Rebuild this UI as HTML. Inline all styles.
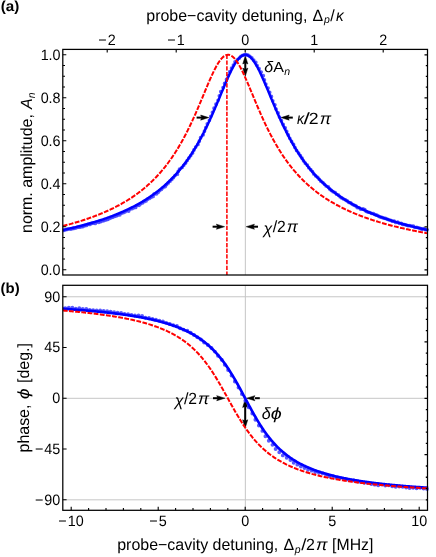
<!DOCTYPE html><html><head><meta charset="utf-8"><style>html,body{margin:0;padding:0;background:#fff}svg{display:block}text{font-family:"Liberation Sans",sans-serif;fill:#000;text-rendering:geometricPrecision}.i{font-style:italic}.b{font-weight:bold}</style></head><body>
<svg style="will-change:transform" width="436" height="557" viewBox="0 0 436 557">
<rect width="100%" height="100%" fill="#fff"/>
<defs><clipPath id="c1"><rect x="62.8" y="49.4" width="365.9" height="225.6"/></clipPath><clipPath id="c2"><rect x="62.8" y="285.3" width="365.9" height="225.0"/></clipPath>
</defs>
<line x1="245.35" y1="49.4" x2="245.35" y2="275.0" stroke="#c6c6c6" stroke-width="1"/>
<line x1="196.6" y1="117.6" x2="202.0" y2="117.6" stroke="#000" stroke-width="2.0"/>
<path d="M0,0 L-8.2,2.55 L-6.9,0 L-8.2,-2.55 Z" stroke="#000" stroke-width="0.5" transform="translate(208.8,117.6) rotate(0)"/>
<line x1="292.8" y1="117.6" x2="288.0" y2="117.6" stroke="#000" stroke-width="2.0"/>
<path d="M0,0 L-8.2,2.55 L-6.9,0 L-8.2,-2.55 Z" stroke="#000" stroke-width="0.5" transform="translate(281.0,117.6) rotate(180)"/>
<line x1="245.3" y1="62.0" x2="245.3" y2="70.0" stroke="#000" stroke-width="2.0"/>
<path d="M0,0 L-8.2,2.55 L-6.9,0 L-8.2,-2.55 Z" stroke="#000" stroke-width="0.5" transform="translate(245.3,55.8) rotate(-90)"/>
<path d="M0,0 L-8.2,2.55 L-6.9,0 L-8.2,-2.55 Z" stroke="#000" stroke-width="0.5" transform="translate(245.3,76.3) rotate(90)"/>
<line x1="212.6" y1="226.7" x2="218.0" y2="226.7" stroke="#000" stroke-width="2.0"/>
<path d="M0,0 L-8.2,2.55 L-6.9,0 L-8.2,-2.55 Z" stroke="#000" stroke-width="0.5" transform="translate(224.6,226.7) rotate(0)"/>
<line x1="258.0" y1="226.7" x2="253.0" y2="226.7" stroke="#000" stroke-width="2.0"/>
<path d="M0,0 L-8.2,2.55 L-6.9,0 L-8.2,-2.55 Z" stroke="#000" stroke-width="0.5" transform="translate(246.2,226.7) rotate(180)"/>
<g clip-path="url(#c1)">
<path d="M37.45,235.02m-1.85,0a1.85,1.85 0 1,0 3.70,0a1.85,1.85 0 1,0 -3.70,0M40.89,234.18m-1.85,0a1.85,1.85 0 1,0 3.70,0a1.85,1.85 0 1,0 -3.70,0M44.41,233.83m-1.85,0a1.85,1.85 0 1,0 3.70,0a1.85,1.85 0 1,0 -3.70,0M48.02,233.89m-1.85,0a1.85,1.85 0 1,0 3.70,0a1.85,1.85 0 1,0 -3.70,0M51.41,232.73m-1.85,0a1.85,1.85 0 1,0 3.70,0a1.85,1.85 0 1,0 -3.70,0M54.97,232.47m-1.85,0a1.85,1.85 0 1,0 3.70,0a1.85,1.85 0 1,0 -3.70,0M58.43,231.68m-1.85,0a1.85,1.85 0 1,0 3.70,0a1.85,1.85 0 1,0 -3.70,0M61.87,230.75m-1.85,0a1.85,1.85 0 1,0 3.70,0a1.85,1.85 0 1,0 -3.70,0M65.31,229.79m-1.85,0a1.85,1.85 0 1,0 3.70,0a1.85,1.85 0 1,0 -3.70,0M68.79,229.00m-1.85,0a1.85,1.85 0 1,0 3.70,0a1.85,1.85 0 1,0 -3.70,0M72.38,228.70m-1.85,0a1.85,1.85 0 1,0 3.70,0a1.85,1.85 0 1,0 -3.70,0M75.90,228.01m-1.85,0a1.85,1.85 0 1,0 3.70,0a1.85,1.85 0 1,0 -3.70,0M79.40,227.17m-1.85,0a1.85,1.85 0 1,0 3.70,0a1.85,1.85 0 1,0 -3.70,0M82.97,226.58m-1.85,0a1.85,1.85 0 1,0 3.70,0a1.85,1.85 0 1,0 -3.70,0M86.38,225.37m-1.85,0a1.85,1.85 0 1,0 3.70,0a1.85,1.85 0 1,0 -3.70,0M89.88,224.42m-1.85,0a1.85,1.85 0 1,0 3.70,0a1.85,1.85 0 1,0 -3.70,0M93.31,223.20m-1.85,0a1.85,1.85 0 1,0 3.70,0a1.85,1.85 0 1,0 -3.70,0M96.74,221.96m-1.85,0a1.85,1.85 0 1,0 3.70,0a1.85,1.85 0 1,0 -3.70,0M100.48,221.62m-1.85,0a1.85,1.85 0 1,0 3.70,0a1.85,1.85 0 1,0 -3.70,0M104.00,220.53m-1.85,0a1.85,1.85 0 1,0 3.70,0a1.85,1.85 0 1,0 -3.70,0M107.56,219.51m-1.85,0a1.85,1.85 0 1,0 3.70,0a1.85,1.85 0 1,0 -3.70,0M110.90,217.80m-1.85,0a1.85,1.85 0 1,0 3.70,0a1.85,1.85 0 1,0 -3.70,0M114.36,216.37m-1.85,0a1.85,1.85 0 1,0 3.70,0a1.85,1.85 0 1,0 -3.70,0M117.88,215.03m-1.85,0a1.85,1.85 0 1,0 3.70,0a1.85,1.85 0 1,0 -3.70,0M121.24,213.26m-1.85,0a1.85,1.85 0 1,0 3.70,0a1.85,1.85 0 1,0 -3.70,0M124.84,211.95m-1.85,0a1.85,1.85 0 1,0 3.70,0a1.85,1.85 0 1,0 -3.70,0M128.70,211.08m-1.85,0a1.85,1.85 0 1,0 3.70,0a1.85,1.85 0 1,0 -3.70,0M131.90,208.75m-1.85,0a1.85,1.85 0 1,0 3.70,0a1.85,1.85 0 1,0 -3.70,0M135.66,207.43m-1.85,0a1.85,1.85 0 1,0 3.70,0a1.85,1.85 0 1,0 -3.70,0M139.06,205.32m-1.85,0a1.85,1.85 0 1,0 3.70,0a1.85,1.85 0 1,0 -3.70,0M142.36,202.94m-1.85,0a1.85,1.85 0 1,0 3.70,0a1.85,1.85 0 1,0 -3.70,0M145.96,200.96m-1.85,0a1.85,1.85 0 1,0 3.70,0a1.85,1.85 0 1,0 -3.70,0M149.31,198.46m-1.85,0a1.85,1.85 0 1,0 3.70,0a1.85,1.85 0 1,0 -3.70,0M153.11,196.48m-1.85,0a1.85,1.85 0 1,0 3.70,0a1.85,1.85 0 1,0 -3.70,0M156.53,193.79m-1.85,0a1.85,1.85 0 1,0 3.70,0a1.85,1.85 0 1,0 -3.70,0M159.62,190.54m-1.85,0a1.85,1.85 0 1,0 3.70,0a1.85,1.85 0 1,0 -3.70,0M163.07,187.60m-1.85,0a1.85,1.85 0 1,0 3.70,0a1.85,1.85 0 1,0 -3.70,0M166.65,184.61m-1.85,0a1.85,1.85 0 1,0 3.70,0a1.85,1.85 0 1,0 -3.70,0M170.01,181.17m-1.85,0a1.85,1.85 0 1,0 3.70,0a1.85,1.85 0 1,0 -3.70,0M173.46,177.60m-1.85,0a1.85,1.85 0 1,0 3.70,0a1.85,1.85 0 1,0 -3.70,0M177.40,174.21m-1.85,0a1.85,1.85 0 1,0 3.70,0a1.85,1.85 0 1,0 -3.70,0M179.54,169.00m-1.85,0a1.85,1.85 0 1,0 3.70,0a1.85,1.85 0 1,0 -3.70,0M183.76,165.26m-1.85,0a1.85,1.85 0 1,0 3.70,0a1.85,1.85 0 1,0 -3.70,0M187.17,160.52m-1.85,0a1.85,1.85 0 1,0 3.70,0a1.85,1.85 0 1,0 -3.70,0M190.72,155.53m-1.85,0a1.85,1.85 0 1,0 3.70,0a1.85,1.85 0 1,0 -3.70,0M193.93,149.94m-1.85,0a1.85,1.85 0 1,0 3.70,0a1.85,1.85 0 1,0 -3.70,0M197.96,144.43m-1.85,0a1.85,1.85 0 1,0 3.70,0a1.85,1.85 0 1,0 -3.70,0M200.59,137.71m-1.85,0a1.85,1.85 0 1,0 3.70,0a1.85,1.85 0 1,0 -3.70,0M204.45,131.22m-1.85,0a1.85,1.85 0 1,0 3.70,0a1.85,1.85 0 1,0 -3.70,0M207.30,123.79m-1.85,0a1.85,1.85 0 1,0 3.70,0a1.85,1.85 0 1,0 -3.70,0M210.77,116.24m-1.85,0a1.85,1.85 0 1,0 3.70,0a1.85,1.85 0 1,0 -3.70,0M214.02,108.21m-1.85,0a1.85,1.85 0 1,0 3.70,0a1.85,1.85 0 1,0 -3.70,0M218.06,100.23m-1.85,0a1.85,1.85 0 1,0 3.70,0a1.85,1.85 0 1,0 -3.70,0M220.74,91.53m-1.85,0a1.85,1.85 0 1,0 3.70,0a1.85,1.85 0 1,0 -3.70,0M224.57,83.38m-1.85,0a1.85,1.85 0 1,0 3.70,0a1.85,1.85 0 1,0 -3.70,0M228.35,75.56m-1.85,0a1.85,1.85 0 1,0 3.70,0a1.85,1.85 0 1,0 -3.70,0M231.55,68.18m-1.85,0a1.85,1.85 0 1,0 3.70,0a1.85,1.85 0 1,0 -3.70,0M234.99,61.98m-1.85,0a1.85,1.85 0 1,0 3.70,0a1.85,1.85 0 1,0 -3.70,0M239.33,58.05m-1.85,0a1.85,1.85 0 1,0 3.70,0a1.85,1.85 0 1,0 -3.70,0M242.67,55.25m-1.85,0a1.85,1.85 0 1,0 3.70,0a1.85,1.85 0 1,0 -3.70,0M246.24,54.66m-1.85,0a1.85,1.85 0 1,0 3.70,0a1.85,1.85 0 1,0 -3.70,0M249.86,56.37m-1.85,0a1.85,1.85 0 1,0 3.70,0a1.85,1.85 0 1,0 -3.70,0M253.64,59.99m-1.85,0a1.85,1.85 0 1,0 3.70,0a1.85,1.85 0 1,0 -3.70,0M257.18,65.50m-1.85,0a1.85,1.85 0 1,0 3.70,0a1.85,1.85 0 1,0 -3.70,0M261.22,72.06m-1.85,0a1.85,1.85 0 1,0 3.70,0a1.85,1.85 0 1,0 -3.70,0M264.42,79.90m-1.85,0a1.85,1.85 0 1,0 3.70,0a1.85,1.85 0 1,0 -3.70,0M268.07,88.03m-1.85,0a1.85,1.85 0 1,0 3.70,0a1.85,1.85 0 1,0 -3.70,0M271.43,96.44m-1.85,0a1.85,1.85 0 1,0 3.70,0a1.85,1.85 0 1,0 -3.70,0M274.92,104.74m-1.85,0a1.85,1.85 0 1,0 3.70,0a1.85,1.85 0 1,0 -3.70,0M278.14,112.91m-1.85,0a1.85,1.85 0 1,0 3.70,0a1.85,1.85 0 1,0 -3.70,0M281.44,120.71m-1.85,0a1.85,1.85 0 1,0 3.70,0a1.85,1.85 0 1,0 -3.70,0M285.25,127.85m-1.85,0a1.85,1.85 0 1,0 3.70,0a1.85,1.85 0 1,0 -3.70,0M288.33,134.92m-1.85,0a1.85,1.85 0 1,0 3.70,0a1.85,1.85 0 1,0 -3.70,0M291.62,141.45m-1.85,0a1.85,1.85 0 1,0 3.70,0a1.85,1.85 0 1,0 -3.70,0M295.00,147.50m-1.85,0a1.85,1.85 0 1,0 3.70,0a1.85,1.85 0 1,0 -3.70,0M298.58,153.02m-1.85,0a1.85,1.85 0 1,0 3.70,0a1.85,1.85 0 1,0 -3.70,0M302.09,158.19m-1.85,0a1.85,1.85 0 1,0 3.70,0a1.85,1.85 0 1,0 -3.70,0M305.31,163.19m-1.85,0a1.85,1.85 0 1,0 3.70,0a1.85,1.85 0 1,0 -3.70,0M308.81,167.67m-1.85,0a1.85,1.85 0 1,0 3.70,0a1.85,1.85 0 1,0 -3.70,0M312.53,171.63m-1.85,0a1.85,1.85 0 1,0 3.70,0a1.85,1.85 0 1,0 -3.70,0M315.65,175.84m-1.85,0a1.85,1.85 0 1,0 3.70,0a1.85,1.85 0 1,0 -3.70,0M319.28,179.32m-1.85,0a1.85,1.85 0 1,0 3.70,0a1.85,1.85 0 1,0 -3.70,0M322.90,182.55m-1.85,0a1.85,1.85 0 1,0 3.70,0a1.85,1.85 0 1,0 -3.70,0M326.12,186.00m-1.85,0a1.85,1.85 0 1,0 3.70,0a1.85,1.85 0 1,0 -3.70,0M329.66,188.89m-1.85,0a1.85,1.85 0 1,0 3.70,0a1.85,1.85 0 1,0 -3.70,0M333.11,191.71m-1.85,0a1.85,1.85 0 1,0 3.70,0a1.85,1.85 0 1,0 -3.70,0M336.63,194.27m-1.85,0a1.85,1.85 0 1,0 3.70,0a1.85,1.85 0 1,0 -3.70,0M340.07,196.78m-1.85,0a1.85,1.85 0 1,0 3.70,0a1.85,1.85 0 1,0 -3.70,0M343.61,198.99m-1.85,0a1.85,1.85 0 1,0 3.70,0a1.85,1.85 0 1,0 -3.70,0M347.21,200.95m-1.85,0a1.85,1.85 0 1,0 3.70,0a1.85,1.85 0 1,0 -3.70,0M350.73,202.92m-1.85,0a1.85,1.85 0 1,0 3.70,0a1.85,1.85 0 1,0 -3.70,0M354.01,205.22m-1.85,0a1.85,1.85 0 1,0 3.70,0a1.85,1.85 0 1,0 -3.70,0M357.23,207.56m-1.85,0a1.85,1.85 0 1,0 3.70,0a1.85,1.85 0 1,0 -3.70,0M360.76,209.23m-1.85,0a1.85,1.85 0 1,0 3.70,0a1.85,1.85 0 1,0 -3.70,0M364.80,209.69m-1.85,0a1.85,1.85 0 1,0 3.70,0a1.85,1.85 0 1,0 -3.70,0M367.92,212.03m-1.85,0a1.85,1.85 0 1,0 3.70,0a1.85,1.85 0 1,0 -3.70,0M371.49,213.33m-1.85,0a1.85,1.85 0 1,0 3.70,0a1.85,1.85 0 1,0 -3.70,0M375.03,214.58m-1.85,0a1.85,1.85 0 1,0 3.70,0a1.85,1.85 0 1,0 -3.70,0M378.46,216.04m-1.85,0a1.85,1.85 0 1,0 3.70,0a1.85,1.85 0 1,0 -3.70,0M381.91,217.40m-1.85,0a1.85,1.85 0 1,0 3.70,0a1.85,1.85 0 1,0 -3.70,0M385.47,218.42m-1.85,0a1.85,1.85 0 1,0 3.70,0a1.85,1.85 0 1,0 -3.70,0M388.87,219.82m-1.85,0a1.85,1.85 0 1,0 3.70,0a1.85,1.85 0 1,0 -3.70,0M392.25,221.27m-1.85,0a1.85,1.85 0 1,0 3.70,0a1.85,1.85 0 1,0 -3.70,0M395.68,222.52m-1.85,0a1.85,1.85 0 1,0 3.70,0a1.85,1.85 0 1,0 -3.70,0M399.23,223.31m-1.85,0a1.85,1.85 0 1,0 3.70,0a1.85,1.85 0 1,0 -3.70,0M402.67,224.47m-1.85,0a1.85,1.85 0 1,0 3.70,0a1.85,1.85 0 1,0 -3.70,0M406.25,225.06m-1.85,0a1.85,1.85 0 1,0 3.70,0a1.85,1.85 0 1,0 -3.70,0M409.81,225.67m-1.85,0a1.85,1.85 0 1,0 3.70,0a1.85,1.85 0 1,0 -3.70,0M413.39,226.13m-1.85,0a1.85,1.85 0 1,0 3.70,0a1.85,1.85 0 1,0 -3.70,0M416.77,227.36m-1.85,0a1.85,1.85 0 1,0 3.70,0a1.85,1.85 0 1,0 -3.70,0M420.20,228.36m-1.85,0a1.85,1.85 0 1,0 3.70,0a1.85,1.85 0 1,0 -3.70,0M423.79,228.64m-1.85,0a1.85,1.85 0 1,0 3.70,0a1.85,1.85 0 1,0 -3.70,0M427.18,229.78m-1.85,0a1.85,1.85 0 1,0 3.70,0a1.85,1.85 0 1,0 -3.70,0" fill="#3c3cff" fill-opacity="0.85"/>
<path d="M39.25,235.10m-1.85,0a1.85,1.85 0 1,0 3.70,0a1.85,1.85 0 1,0 -3.70,0M42.73,234.48m-1.85,0a1.85,1.85 0 1,0 3.70,0a1.85,1.85 0 1,0 -3.70,0M46.16,233.54m-1.85,0a1.85,1.85 0 1,0 3.70,0a1.85,1.85 0 1,0 -3.70,0M49.67,233.09m-1.85,0a1.85,1.85 0 1,0 3.70,0a1.85,1.85 0 1,0 -3.70,0M53.20,232.66m-1.85,0a1.85,1.85 0 1,0 3.70,0a1.85,1.85 0 1,0 -3.70,0M56.65,231.81m-1.85,0a1.85,1.85 0 1,0 3.70,0a1.85,1.85 0 1,0 -3.70,0M60.09,230.90m-1.85,0a1.85,1.85 0 1,0 3.70,0a1.85,1.85 0 1,0 -3.70,0M63.62,230.39m-1.85,0a1.85,1.85 0 1,0 3.70,0a1.85,1.85 0 1,0 -3.70,0M67.05,229.39m-1.85,0a1.85,1.85 0 1,0 3.70,0a1.85,1.85 0 1,0 -3.70,0M70.63,229.05m-1.85,0a1.85,1.85 0 1,0 3.70,0a1.85,1.85 0 1,0 -3.70,0M74.12,228.28m-1.85,0a1.85,1.85 0 1,0 3.70,0a1.85,1.85 0 1,0 -3.70,0M77.55,227.20m-1.85,0a1.85,1.85 0 1,0 3.70,0a1.85,1.85 0 1,0 -3.70,0M81.17,226.85m-1.85,0a1.85,1.85 0 1,0 3.70,0a1.85,1.85 0 1,0 -3.70,0M84.60,225.68m-1.85,0a1.85,1.85 0 1,0 3.70,0a1.85,1.85 0 1,0 -3.70,0M88.01,224.45m-1.85,0a1.85,1.85 0 1,0 3.70,0a1.85,1.85 0 1,0 -3.70,0M91.49,223.46m-1.85,0a1.85,1.85 0 1,0 3.70,0a1.85,1.85 0 1,0 -3.70,0M95.28,223.42m-1.85,0a1.85,1.85 0 1,0 3.70,0a1.85,1.85 0 1,0 -3.70,0M98.76,222.30m-1.85,0a1.85,1.85 0 1,0 3.70,0a1.85,1.85 0 1,0 -3.70,0M102.17,220.88m-1.85,0a1.85,1.85 0 1,0 3.70,0a1.85,1.85 0 1,0 -3.70,0M105.76,219.97m-1.85,0a1.85,1.85 0 1,0 3.70,0a1.85,1.85 0 1,0 -3.70,0M109.19,218.53m-1.85,0a1.85,1.85 0 1,0 3.70,0a1.85,1.85 0 1,0 -3.70,0M112.65,217.14m-1.85,0a1.85,1.85 0 1,0 3.70,0a1.85,1.85 0 1,0 -3.70,0M116.21,215.94m-1.85,0a1.85,1.85 0 1,0 3.70,0a1.85,1.85 0 1,0 -3.70,0M119.84,214.82m-1.85,0a1.85,1.85 0 1,0 3.70,0a1.85,1.85 0 1,0 -3.70,0M123.08,212.70m-1.85,0a1.85,1.85 0 1,0 3.70,0a1.85,1.85 0 1,0 -3.70,0M126.44,210.83m-1.85,0a1.85,1.85 0 1,0 3.70,0a1.85,1.85 0 1,0 -3.70,0M129.88,209.06m-1.85,0a1.85,1.85 0 1,0 3.70,0a1.85,1.85 0 1,0 -3.70,0M133.61,207.78m-1.85,0a1.85,1.85 0 1,0 3.70,0a1.85,1.85 0 1,0 -3.70,0M136.88,205.50m-1.85,0a1.85,1.85 0 1,0 3.70,0a1.85,1.85 0 1,0 -3.70,0M140.54,203.83m-1.85,0a1.85,1.85 0 1,0 3.70,0a1.85,1.85 0 1,0 -3.70,0M144.02,201.73m-1.85,0a1.85,1.85 0 1,0 3.70,0a1.85,1.85 0 1,0 -3.70,0M147.41,199.37m-1.85,0a1.85,1.85 0 1,0 3.70,0a1.85,1.85 0 1,0 -3.70,0M151.12,197.36m-1.85,0a1.85,1.85 0 1,0 3.70,0a1.85,1.85 0 1,0 -3.70,0M154.10,194.16m-1.85,0a1.85,1.85 0 1,0 3.70,0a1.85,1.85 0 1,0 -3.70,0M158.15,192.29m-1.85,0a1.85,1.85 0 1,0 3.70,0a1.85,1.85 0 1,0 -3.70,0M161.49,189.28m-1.85,0a1.85,1.85 0 1,0 3.70,0a1.85,1.85 0 1,0 -3.70,0M165.21,186.53m-1.85,0a1.85,1.85 0 1,0 3.70,0a1.85,1.85 0 1,0 -3.70,0M168.29,182.87m-1.85,0a1.85,1.85 0 1,0 3.70,0a1.85,1.85 0 1,0 -3.70,0M171.74,179.41m-1.85,0a1.85,1.85 0 1,0 3.70,0a1.85,1.85 0 1,0 -3.70,0M175.02,175.57m-1.85,0a1.85,1.85 0 1,0 3.70,0a1.85,1.85 0 1,0 -3.70,0M178.22,171.41m-1.85,0a1.85,1.85 0 1,0 3.70,0a1.85,1.85 0 1,0 -3.70,0M182.06,167.51m-1.85,0a1.85,1.85 0 1,0 3.70,0a1.85,1.85 0 1,0 -3.70,0M185.60,163.03m-1.85,0a1.85,1.85 0 1,0 3.70,0a1.85,1.85 0 1,0 -3.70,0M188.89,158.04m-1.85,0a1.85,1.85 0 1,0 3.70,0a1.85,1.85 0 1,0 -3.70,0M192.59,152.95m-1.85,0a1.85,1.85 0 1,0 3.70,0a1.85,1.85 0 1,0 -3.70,0M195.65,147.07m-1.85,0a1.85,1.85 0 1,0 3.70,0a1.85,1.85 0 1,0 -3.70,0M199.29,141.13m-1.85,0a1.85,1.85 0 1,0 3.70,0a1.85,1.85 0 1,0 -3.70,0M203.16,134.86m-1.85,0a1.85,1.85 0 1,0 3.70,0a1.85,1.85 0 1,0 -3.70,0M205.77,127.50m-1.85,0a1.85,1.85 0 1,0 3.70,0a1.85,1.85 0 1,0 -3.70,0M209.39,120.23m-1.85,0a1.85,1.85 0 1,0 3.70,0a1.85,1.85 0 1,0 -3.70,0M212.40,112.27m-1.85,0a1.85,1.85 0 1,0 3.70,0a1.85,1.85 0 1,0 -3.70,0M215.93,104.20m-1.85,0a1.85,1.85 0 1,0 3.70,0a1.85,1.85 0 1,0 -3.70,0M219.33,95.86m-1.85,0a1.85,1.85 0 1,0 3.70,0a1.85,1.85 0 1,0 -3.70,0M223.03,87.59m-1.85,0a1.85,1.85 0 1,0 3.70,0a1.85,1.85 0 1,0 -3.70,0M226.51,79.42m-1.85,0a1.85,1.85 0 1,0 3.70,0a1.85,1.85 0 1,0 -3.70,0M229.75,71.66m-1.85,0a1.85,1.85 0 1,0 3.70,0a1.85,1.85 0 1,0 -3.70,0M233.41,65.00m-1.85,0a1.85,1.85 0 1,0 3.70,0a1.85,1.85 0 1,0 -3.70,0M237.32,59.86m-1.85,0a1.85,1.85 0 1,0 3.70,0a1.85,1.85 0 1,0 -3.70,0M240.92,56.33m-1.85,0a1.85,1.85 0 1,0 3.70,0a1.85,1.85 0 1,0 -3.70,0M244.45,54.78m-1.85,0a1.85,1.85 0 1,0 3.70,0a1.85,1.85 0 1,0 -3.70,0M248.07,55.21m-1.85,0a1.85,1.85 0 1,0 3.70,0a1.85,1.85 0 1,0 -3.70,0M251.84,57.85m-1.85,0a1.85,1.85 0 1,0 3.70,0a1.85,1.85 0 1,0 -3.70,0M255.82,62.30m-1.85,0a1.85,1.85 0 1,0 3.70,0a1.85,1.85 0 1,0 -3.70,0M259.09,68.69m-1.85,0a1.85,1.85 0 1,0 3.70,0a1.85,1.85 0 1,0 -3.70,0M263.30,75.68m-1.85,0a1.85,1.85 0 1,0 3.70,0a1.85,1.85 0 1,0 -3.70,0M265.84,84.09m-1.85,0a1.85,1.85 0 1,0 3.70,0a1.85,1.85 0 1,0 -3.70,0M269.70,92.25m-1.85,0a1.85,1.85 0 1,0 3.70,0a1.85,1.85 0 1,0 -3.70,0M272.79,100.77m-1.85,0a1.85,1.85 0 1,0 3.70,0a1.85,1.85 0 1,0 -3.70,0M276.09,109.05m-1.85,0a1.85,1.85 0 1,0 3.70,0a1.85,1.85 0 1,0 -3.70,0M279.50,116.99m-1.85,0a1.85,1.85 0 1,0 3.70,0a1.85,1.85 0 1,0 -3.70,0M283.22,124.40m-1.85,0a1.85,1.85 0 1,0 3.70,0a1.85,1.85 0 1,0 -3.70,0M286.74,131.47m-1.85,0a1.85,1.85 0 1,0 3.70,0a1.85,1.85 0 1,0 -3.70,0M289.80,138.34m-1.85,0a1.85,1.85 0 1,0 3.70,0a1.85,1.85 0 1,0 -3.70,0M293.58,144.38m-1.85,0a1.85,1.85 0 1,0 3.70,0a1.85,1.85 0 1,0 -3.70,0M296.58,150.45m-1.85,0a1.85,1.85 0 1,0 3.70,0a1.85,1.85 0 1,0 -3.70,0M300.38,155.63m-1.85,0a1.85,1.85 0 1,0 3.70,0a1.85,1.85 0 1,0 -3.70,0M303.52,160.86m-1.85,0a1.85,1.85 0 1,0 3.70,0a1.85,1.85 0 1,0 -3.70,0M307.39,165.22m-1.85,0a1.85,1.85 0 1,0 3.70,0a1.85,1.85 0 1,0 -3.70,0M310.74,169.63m-1.85,0a1.85,1.85 0 1,0 3.70,0a1.85,1.85 0 1,0 -3.70,0M313.82,174.01m-1.85,0a1.85,1.85 0 1,0 3.70,0a1.85,1.85 0 1,0 -3.70,0M317.72,177.37m-1.85,0a1.85,1.85 0 1,0 3.70,0a1.85,1.85 0 1,0 -3.70,0M320.93,181.13m-1.85,0a1.85,1.85 0 1,0 3.70,0a1.85,1.85 0 1,0 -3.70,0M324.54,184.27m-1.85,0a1.85,1.85 0 1,0 3.70,0a1.85,1.85 0 1,0 -3.70,0M328.33,186.95m-1.85,0a1.85,1.85 0 1,0 3.70,0a1.85,1.85 0 1,0 -3.70,0M331.33,190.40m-1.85,0a1.85,1.85 0 1,0 3.70,0a1.85,1.85 0 1,0 -3.70,0M335.18,192.59m-1.85,0a1.85,1.85 0 1,0 3.70,0a1.85,1.85 0 1,0 -3.70,0M338.57,195.22m-1.85,0a1.85,1.85 0 1,0 3.70,0a1.85,1.85 0 1,0 -3.70,0M341.80,197.95m-1.85,0a1.85,1.85 0 1,0 3.70,0a1.85,1.85 0 1,0 -3.70,0M345.50,199.84m-1.85,0a1.85,1.85 0 1,0 3.70,0a1.85,1.85 0 1,0 -3.70,0M348.73,202.37m-1.85,0a1.85,1.85 0 1,0 3.70,0a1.85,1.85 0 1,0 -3.70,0M352.27,204.26m-1.85,0a1.85,1.85 0 1,0 3.70,0a1.85,1.85 0 1,0 -3.70,0M355.86,205.94m-1.85,0a1.85,1.85 0 1,0 3.70,0a1.85,1.85 0 1,0 -3.70,0M359.29,207.82m-1.85,0a1.85,1.85 0 1,0 3.70,0a1.85,1.85 0 1,0 -3.70,0M363.04,208.94m-1.85,0a1.85,1.85 0 1,0 3.70,0a1.85,1.85 0 1,0 -3.70,0M366.14,211.36m-1.85,0a1.85,1.85 0 1,0 3.70,0a1.85,1.85 0 1,0 -3.70,0M369.78,212.52m-1.85,0a1.85,1.85 0 1,0 3.70,0a1.85,1.85 0 1,0 -3.70,0M373.43,213.53m-1.85,0a1.85,1.85 0 1,0 3.70,0a1.85,1.85 0 1,0 -3.70,0M376.81,215.15m-1.85,0a1.85,1.85 0 1,0 3.70,0a1.85,1.85 0 1,0 -3.70,0M380.09,217.00m-1.85,0a1.85,1.85 0 1,0 3.70,0a1.85,1.85 0 1,0 -3.70,0M383.62,218.11m-1.85,0a1.85,1.85 0 1,0 3.70,0a1.85,1.85 0 1,0 -3.70,0M387.18,219.08m-1.85,0a1.85,1.85 0 1,0 3.70,0a1.85,1.85 0 1,0 -3.70,0M390.65,220.27m-1.85,0a1.85,1.85 0 1,0 3.70,0a1.85,1.85 0 1,0 -3.70,0M394.18,221.20m-1.85,0a1.85,1.85 0 1,0 3.70,0a1.85,1.85 0 1,0 -3.70,0M397.66,222.22m-1.85,0a1.85,1.85 0 1,0 3.70,0a1.85,1.85 0 1,0 -3.70,0M401.12,223.28m-1.85,0a1.85,1.85 0 1,0 3.70,0a1.85,1.85 0 1,0 -3.70,0M404.53,224.51m-1.85,0a1.85,1.85 0 1,0 3.70,0a1.85,1.85 0 1,0 -3.70,0M407.96,225.62m-1.85,0a1.85,1.85 0 1,0 3.70,0a1.85,1.85 0 1,0 -3.70,0M411.58,225.99m-1.85,0a1.85,1.85 0 1,0 3.70,0a1.85,1.85 0 1,0 -3.70,0M414.89,227.50m-1.85,0a1.85,1.85 0 1,0 3.70,0a1.85,1.85 0 1,0 -3.70,0M418.50,227.80m-1.85,0a1.85,1.85 0 1,0 3.70,0a1.85,1.85 0 1,0 -3.70,0M421.81,229.35m-1.85,0a1.85,1.85 0 1,0 3.70,0a1.85,1.85 0 1,0 -3.70,0M425.40,229.60m-1.85,0a1.85,1.85 0 1,0 3.70,0a1.85,1.85 0 1,0 -3.70,0" fill="#3c3cff" fill-opacity="0.85"/>
<path d="M62.80,229.99 L63.71,229.80 L64.63,229.60 L65.54,229.41 L66.45,229.21 L67.37,229.01 L68.28,228.80 L69.20,228.60 L70.11,228.39 L71.02,228.18 L71.94,227.97 L72.85,227.76 L73.77,227.54 L74.68,227.33 L75.59,227.11 L76.51,226.88 L77.42,226.66 L78.33,226.43 L79.25,226.20 L80.16,225.97 L81.07,225.74 L81.99,225.50 L82.90,225.26 L83.82,225.02 L84.73,224.78 L85.64,224.53 L86.56,224.28 L87.47,224.03 L88.38,223.78 L89.30,223.52 L90.21,223.26 L91.13,223.00 L92.04,222.73 L92.95,222.46 L93.87,222.19 L94.78,221.91 L95.69,221.64 L96.61,221.36 L97.52,221.07 L98.44,220.78 L99.35,220.49 L100.26,220.20 L101.18,219.90 L102.09,219.60 L103.00,219.29 L103.92,218.99 L104.83,218.67 L105.75,218.36 L106.66,218.04 L107.57,217.71 L108.49,217.39 L109.40,217.06 L110.31,216.72 L111.23,216.38 L112.14,216.04 L113.06,215.69 L113.97,215.33 L114.88,214.98 L115.80,214.62 L116.71,214.25 L117.62,213.88 L118.54,213.50 L119.45,213.12 L120.37,212.74 L121.28,212.35 L122.19,211.95 L123.11,211.55 L124.02,211.14 L124.94,210.73 L125.85,210.31 L126.76,209.89 L127.68,209.46 L128.59,209.02 L129.50,208.58 L130.42,208.14 L131.33,207.68 L132.25,207.22 L133.16,206.75 L134.07,206.28 L134.99,205.80 L135.90,205.31 L136.81,204.82 L137.73,204.32 L138.64,203.81 L139.56,203.29 L140.47,202.77 L141.38,202.24 L142.30,201.70 L143.21,201.15 L144.12,200.59 L145.04,200.03 L145.95,199.45 L146.87,198.87 L147.78,198.28 L148.69,197.68 L149.61,197.07 L150.52,196.45 L151.43,195.82 L152.35,195.17 L153.26,194.52 L154.18,193.86 L155.09,193.19 L156.00,192.51 L156.92,191.81 L157.83,191.10 L158.74,190.38 L159.66,189.65 L160.57,188.91 L161.49,188.15 L162.40,187.38 L163.31,186.60 L164.23,185.81 L165.14,185.00 L166.05,184.17 L166.97,183.33 L167.88,182.48 L168.80,181.61 L169.71,180.72 L170.62,179.82 L171.54,178.90 L172.45,177.97 L173.36,177.02 L174.28,176.05 L175.19,175.06 L176.11,174.06 L177.02,173.03 L177.93,171.99 L178.85,170.92 L179.76,169.84 L180.67,168.74 L181.59,167.61 L182.50,166.46 L183.41,165.29 L184.33,164.10 L185.24,162.89 L186.16,161.65 L187.07,160.39 L187.98,159.10 L188.90,157.79 L189.81,156.45 L190.72,155.09 L191.64,153.70 L192.55,152.28 L193.47,150.84 L194.38,149.37 L195.29,147.87 L196.21,146.34 L197.12,144.78 L198.04,143.19 L198.95,141.57 L199.86,139.93 L200.78,138.25 L201.69,136.54 L202.60,134.80 L203.52,133.03 L204.43,131.23 L205.34,129.40 L206.26,127.54 L207.17,125.65 L208.09,123.73 L209.00,121.78 L209.91,119.80 L210.83,117.79 L211.74,115.75 L212.65,113.69 L213.57,111.61 L214.48,109.50 L215.40,107.38 L216.31,105.23 L217.22,103.07 L218.14,100.89 L219.05,98.70 L219.96,96.50 L220.88,94.31 L221.79,92.11 L222.71,89.91 L223.62,87.72 L224.53,85.55 L225.45,83.40 L226.36,81.27 L227.27,79.17 L228.19,77.12 L229.10,75.10 L230.02,73.14 L230.93,71.24 L231.84,69.40 L232.76,67.64 L233.67,65.96 L234.58,64.38 L235.50,62.89 L236.41,61.50 L237.33,60.23 L238.24,59.08 L239.15,58.05 L240.07,57.16 L240.98,56.40 L241.89,55.79 L242.81,55.32 L243.72,55.00 L244.64,54.83 L245.55,54.81 L246.46,54.95 L247.38,55.23 L248.29,55.66 L249.20,56.25 L250.12,56.97 L251.03,57.83 L251.95,58.83 L252.86,59.95 L253.77,61.19 L254.69,62.55 L255.60,64.02 L256.51,65.58 L257.43,67.24 L258.34,68.98 L259.26,70.80 L260.17,72.69 L261.08,74.64 L262.00,76.64 L262.91,78.69 L263.82,80.78 L264.74,82.90 L265.65,85.05 L266.57,87.21 L267.48,89.40 L268.39,91.59 L269.31,93.79 L270.22,95.99 L271.13,98.19 L272.05,100.38 L272.96,102.56 L273.88,104.72 L274.79,106.87 L275.70,109.01 L276.62,111.12 L277.53,113.21 L278.44,115.27 L279.36,117.32 L280.27,119.33 L281.19,121.31 L282.10,123.27 L283.01,125.20 L283.93,127.10 L284.84,128.97 L285.75,130.81 L286.67,132.61 L287.58,134.39 L288.50,136.14 L289.41,137.85 L290.32,139.54 L291.24,141.19 L292.15,142.82 L293.06,144.41 L293.98,145.97 L294.89,147.51 L295.81,149.02 L296.72,150.50 L297.63,151.95 L298.55,153.37 L299.46,154.76 L300.38,156.13 L301.29,157.48 L302.20,158.80 L303.12,160.09 L304.03,161.36 L304.94,162.60 L305.86,163.82 L306.77,165.02 L307.69,166.19 L308.60,167.34 L309.51,168.47 L310.43,169.58 L311.34,170.67 L312.25,171.74 L313.17,172.79 L314.08,173.82 L315.00,174.83 L315.91,175.82 L316.82,176.79 L317.74,177.75 L318.65,178.69 L319.56,179.61 L320.48,180.51 L321.39,181.40 L322.31,182.28 L323.22,183.13 L324.13,183.98 L325.05,184.80 L325.96,185.62 L326.87,186.42 L327.79,187.20 L328.70,187.98 L329.62,188.73 L330.53,189.48 L331.44,190.21 L332.36,190.94 L333.27,191.65 L334.18,192.34 L335.10,193.03 L336.01,193.71 L336.93,194.37 L337.84,195.02 L338.75,195.67 L339.67,196.30 L340.58,196.92 L341.49,197.54 L342.41,198.14 L343.32,198.73 L344.24,199.32 L345.15,199.89 L346.06,200.46 L346.98,201.02 L347.89,201.57 L348.80,202.11 L349.72,202.65 L350.63,203.17 L351.55,203.69 L352.46,204.20 L353.37,204.70 L354.29,205.20 L355.20,205.69 L356.11,206.17 L357.03,206.64 L357.94,207.11 L358.86,207.57 L359.77,208.03 L360.68,208.48 L361.60,208.92 L362.51,209.36 L363.42,209.79 L364.34,210.21 L365.25,210.63 L366.17,211.05 L367.08,211.45 L367.99,211.86 L368.91,212.25 L369.82,212.65 L370.73,213.03 L371.65,213.41 L372.56,213.79 L373.48,214.16 L374.39,214.53 L375.30,214.89 L376.22,215.25 L377.13,215.61 L378.04,215.95 L378.96,216.30 L379.87,216.64 L380.79,216.98 L381.70,217.31 L382.61,217.64 L383.53,217.96 L384.44,218.28 L385.35,218.60 L386.27,218.91 L387.18,219.22 L388.10,219.53 L389.01,219.83 L389.92,220.13 L390.84,220.42 L391.75,220.72 L392.66,221.00 L393.58,221.29 L394.49,221.57 L395.41,221.85 L396.32,222.13 L397.23,222.40 L398.15,222.67 L399.06,222.93 L399.97,223.20 L400.89,223.46 L401.80,223.72 L402.72,223.97 L403.63,224.22 L404.54,224.47 L405.46,224.72 L406.37,224.97 L407.28,225.21 L408.20,225.45 L409.11,225.68 L410.03,225.92 L410.94,226.15 L411.85,226.38 L412.77,226.61 L413.68,226.83 L414.59,227.05 L415.51,227.27 L416.42,227.49 L417.34,227.71 L418.25,227.92 L419.16,228.13 L420.08,228.34 L420.99,228.55 L421.90,228.76 L422.82,228.96 L423.73,229.16 L424.65,229.36 L425.56,229.56 L426.47,229.75 L427.39,229.95 L428.30,230.14" fill="none" stroke="#0000ff" stroke-width="2.45"/>
<path d="M62.80,226.03 L63.71,225.80 L64.62,225.56 L65.54,225.32 L66.45,225.08 L67.36,224.84 L68.27,224.60 L69.18,224.35 L70.09,224.10 L71.01,223.84 L71.92,223.59 L72.83,223.33 L73.74,223.07 L74.65,222.80 L75.56,222.54 L76.48,222.26 L77.39,221.99 L78.30,221.71 L79.21,221.44 L80.12,221.15 L81.03,220.87 L81.95,220.58 L82.86,220.28 L83.77,219.99 L84.68,219.69 L85.59,219.39 L86.51,219.08 L87.42,218.77 L88.33,218.45 L89.24,218.14 L90.15,217.81 L91.06,217.49 L91.98,217.16 L92.89,216.83 L93.80,216.49 L94.71,216.15 L95.62,215.80 L96.53,215.45 L97.45,215.09 L98.36,214.74 L99.27,214.37 L100.18,214.00 L101.09,213.63 L102.01,213.25 L102.92,212.87 L103.83,212.48 L104.74,212.09 L105.65,211.69 L106.56,211.28 L107.48,210.87 L108.39,210.46 L109.30,210.04 L110.21,209.61 L111.12,209.18 L112.03,208.74 L112.95,208.30 L113.86,207.85 L114.77,207.39 L115.68,206.93 L116.59,206.46 L117.50,205.98 L118.42,205.50 L119.33,205.01 L120.24,204.51 L121.15,204.01 L122.06,203.49 L122.98,202.97 L123.89,202.45 L124.80,201.91 L125.71,201.37 L126.62,200.81 L127.53,200.25 L128.45,199.68 L129.36,199.11 L130.27,198.52 L131.18,197.92 L132.09,197.32 L133.00,196.70 L133.92,196.08 L134.83,195.44 L135.74,194.80 L136.65,194.14 L137.56,193.47 L138.48,192.80 L139.39,192.11 L140.30,191.41 L141.21,190.70 L142.12,189.97 L143.03,189.24 L143.95,188.49 L144.86,187.72 L145.77,186.95 L146.68,186.16 L147.59,185.36 L148.50,184.54 L149.42,183.71 L150.33,182.87 L151.24,182.01 L152.15,181.13 L153.06,180.24 L153.97,179.33 L154.89,178.41 L155.80,177.46 L156.71,176.51 L157.62,175.53 L158.53,174.53 L159.45,173.52 L160.36,172.49 L161.27,171.44 L162.18,170.36 L163.09,169.27 L164.00,168.16 L164.92,167.03 L165.83,165.87 L166.74,164.69 L167.65,163.49 L168.56,162.27 L169.47,161.02 L170.39,159.75 L171.30,158.45 L172.21,157.13 L173.12,155.78 L174.03,154.41 L174.95,153.01 L175.86,151.58 L176.77,150.13 L177.68,148.65 L178.59,147.14 L179.50,145.60 L180.42,144.03 L181.33,142.43 L182.24,140.80 L183.15,139.15 L184.06,137.46 L184.97,135.74 L185.89,133.99 L186.80,132.21 L187.71,130.40 L188.62,128.56 L189.53,126.69 L190.44,124.79 L191.36,122.86 L192.27,120.90 L193.18,118.91 L194.09,116.89 L195.00,114.85 L195.92,112.79 L196.83,110.70 L197.74,108.58 L198.65,106.45 L199.56,104.30 L200.47,102.14 L201.39,99.96 L202.30,97.77 L203.21,95.58 L204.12,93.39 L205.03,91.19 L205.94,89.01 L206.86,86.83 L207.77,84.67 L208.68,82.53 L209.59,80.42 L210.50,78.34 L211.42,76.30 L212.33,74.32 L213.24,72.38 L214.15,70.51 L215.06,68.71 L215.97,66.98 L216.89,65.34 L217.80,63.79 L218.71,62.34 L219.62,61.00 L220.53,59.78 L221.44,58.68 L222.36,57.70 L223.27,56.86 L224.18,56.16 L225.09,55.60 L226.00,55.18 L226.92,54.92 L227.83,54.80 L228.74,54.84 L229.65,55.03 L230.56,55.37 L231.47,55.85 L232.39,56.48 L233.30,57.25 L234.21,58.16 L235.12,59.20 L236.03,60.36 L236.94,61.64 L237.86,63.03 L238.77,64.53 L239.68,66.13 L240.59,67.81 L241.50,69.57 L242.41,71.41 L243.33,73.31 L244.24,75.28 L245.15,77.29 L246.06,79.35 L246.97,81.44 L247.89,83.57 L248.80,85.72 L249.71,87.89 L250.62,90.07 L251.53,92.26 L252.44,94.45 L253.36,96.65 L254.27,98.84 L255.18,101.02 L256.09,103.19 L257.00,105.35 L257.91,107.49 L258.83,109.61 L259.74,111.72 L260.65,113.79 L261.56,115.85 L262.47,117.88 L263.38,119.88 L264.30,121.85 L265.21,123.80 L266.12,125.71 L267.03,127.60 L267.94,129.46 L268.86,131.28 L269.77,133.08 L270.68,134.84 L271.59,136.58 L272.50,138.28 L273.41,139.96 L274.33,141.60 L275.24,143.21 L276.15,144.80 L277.06,146.35 L277.97,147.87 L278.88,149.37 L279.80,150.84 L280.71,152.28 L281.62,153.69 L282.53,155.08 L283.44,156.44 L284.36,157.78 L285.27,159.09 L286.18,160.37 L287.09,161.63 L288.00,162.87 L288.91,164.08 L289.83,165.27 L290.74,166.43 L291.65,167.58 L292.56,168.70 L293.47,169.81 L294.38,170.89 L295.30,171.95 L296.21,172.99 L297.12,174.02 L298.03,175.02 L298.94,176.01 L299.86,176.97 L300.77,177.92 L301.68,178.86 L302.59,179.77 L303.50,180.67 L304.41,181.56 L305.33,182.43 L306.24,183.28 L307.15,184.12 L308.06,184.94 L308.97,185.75 L309.88,186.55 L310.80,187.33 L311.71,188.10 L312.62,188.85 L313.53,189.60 L314.44,190.33 L315.35,191.04 L316.27,191.75 L317.18,192.44 L318.09,193.13 L319.00,193.80 L319.91,194.46 L320.83,195.11 L321.74,195.75 L322.65,196.38 L323.56,197.00 L324.47,197.61 L325.38,198.21 L326.30,198.81 L327.21,199.39 L328.12,199.96 L329.03,200.53 L329.94,201.08 L330.85,201.63 L331.77,202.17 L332.68,202.70 L333.59,203.23 L334.50,203.74 L335.41,204.25 L336.32,204.75 L337.24,205.25 L338.15,205.73 L339.06,206.21 L339.97,206.69 L340.88,207.15 L341.80,207.61 L342.71,208.07 L343.62,208.52 L344.53,208.96 L345.44,209.39 L346.35,209.82 L347.27,210.24 L348.18,210.66 L349.09,211.07 L350.00,211.48 L350.91,211.88 L351.82,212.28 L352.74,212.67 L353.65,213.05 L354.56,213.44 L355.47,213.81 L356.38,214.18 L357.30,214.55 L358.21,214.91 L359.12,215.27 L360.03,215.62 L360.94,215.97 L361.85,216.31 L362.77,216.65 L363.68,216.99 L364.59,217.32 L365.50,217.65 L366.41,217.97 L367.32,218.29 L368.24,218.61 L369.15,218.92 L370.06,219.23 L370.97,219.53 L371.88,219.83 L372.80,220.13 L373.71,220.43 L374.62,220.72 L375.53,221.01 L376.44,221.29 L377.35,221.57 L378.27,221.85 L379.18,222.12 L380.09,222.40 L381.00,222.67 L381.91,222.93 L382.82,223.19 L383.74,223.45 L384.65,223.71 L385.56,223.97 L386.47,224.22 L387.38,224.47 L388.29,224.71 L389.21,224.96 L390.12,225.20 L391.03,225.44 L391.94,225.68 L392.85,225.91 L393.77,226.14 L394.68,226.37 L395.59,226.60 L396.50,226.82 L397.41,227.04 L398.32,227.26 L399.24,227.48 L400.15,227.70 L401.06,227.91 L401.97,228.12 L402.88,228.33 L403.79,228.54 L404.71,228.74 L405.62,228.95 L406.53,229.15 L407.44,229.35 L408.35,229.54 L409.26,229.74 L410.18,229.93 L411.09,230.13 L412.00,230.32 L412.91,230.50 L413.82,230.69 L414.74,230.87 L415.65,231.06 L416.56,231.24 L417.47,231.42 L418.38,231.60 L419.29,231.77 L420.21,231.95 L421.12,232.12 L422.03,232.29 L422.94,232.46 L423.85,232.63 L424.76,232.80 L425.68,232.96 L426.59,233.13 L427.50,233.29" fill="none" stroke="#ff0000" stroke-width="2.0" stroke-dasharray="4.8 1.4"/>
<line x1="226.9" y1="54.8" x2="226.9" y2="275.0" stroke="#ff0000" stroke-width="1.55" stroke-dasharray="4.3 1.4"/>
</g>
<rect x="62.8" y="49.4" width="364.7" height="225.6" stroke="#000" stroke-width="1.25" fill="none"/>
<path d="M62.8,269.80 h3.5 M62.8,259.05 h2.2 M62.8,248.30 h2.2 M62.8,237.55 h2.2 M62.8,226.80 h3.5 M62.8,216.05 h2.2 M62.8,205.30 h2.2 M62.8,194.55 h2.2 M62.8,183.80 h3.5 M62.8,173.05 h2.2 M62.8,162.30 h2.2 M62.8,151.55 h2.2 M62.8,140.80 h3.5 M62.8,130.05 h2.2 M62.8,119.30 h2.2 M62.8,108.55 h2.2 M62.8,97.80 h3.5 M62.8,87.05 h2.2 M62.8,76.30 h2.2 M62.8,65.55 h2.2 M62.8,54.80 h3.5 M107.20,49.4 v3.0 M176.20,49.4 v3.0 M245.20,49.4 v3.0 M314.20,49.4 v3.0 M383.20,49.4 v3.0" stroke="#000" stroke-width="1.1" fill="none"/>
<path d="M427.5,269.80 h-3.0 M427.5,259.05 h-1.7 M427.5,248.30 h-1.7 M427.5,237.55 h-1.7 M427.5,226.80 h-3.0 M427.5,216.05 h-1.7 M427.5,205.30 h-1.7 M427.5,194.55 h-1.7 M427.5,183.80 h-3.0 M427.5,173.05 h-1.7 M427.5,162.30 h-1.7 M427.5,151.55 h-1.7 M427.5,140.80 h-3.0 M427.5,130.05 h-1.7 M427.5,119.30 h-1.7 M427.5,108.55 h-1.7 M427.5,97.80 h-3.0 M427.5,87.05 h-1.7 M427.5,76.30 h-1.7 M427.5,65.55 h-1.7 M427.5,54.80 h-3.0" stroke="#000" stroke-width="1.3" fill="none"/>
<line x1="62.8" y1="296.78" x2="427.5" y2="296.78" stroke="#c6c6c6" stroke-width="1"/>
<line x1="62.8" y1="398.30" x2="427.5" y2="398.30" stroke="#c6c6c6" stroke-width="1"/>
<line x1="62.8" y1="499.82" x2="427.5" y2="499.82" stroke="#c6c6c6" stroke-width="1"/>
<line x1="245.35" y1="285.3" x2="245.35" y2="510.3" stroke="#c6c6c6" stroke-width="1"/>
<line x1="213.0" y1="398.2" x2="218.0" y2="398.2" stroke="#000" stroke-width="2.0"/>
<path d="M0,0 L-8.2,2.55 L-6.9,0 L-8.2,-2.55 Z" stroke="#000" stroke-width="0.5" transform="translate(224.9,398.2) rotate(0)"/>
<line x1="259.8" y1="398.2" x2="255.0" y2="398.2" stroke="#000" stroke-width="2.0"/>
<path d="M0,0 L-8.2,2.55 L-6.9,0 L-8.2,-2.55 Z" stroke="#000" stroke-width="0.5" transform="translate(246.7,398.2) rotate(180)"/>
<line x1="245.2" y1="406.0" x2="245.2" y2="421.0" stroke="#000" stroke-width="2.0"/>
<path d="M0,0 L-8.2,2.55 L-6.9,0 L-8.2,-2.55 Z" stroke="#000" stroke-width="0.5" transform="translate(245.2,399.3) rotate(-90)"/>
<path d="M0,0 L-8.2,2.55 L-6.9,0 L-8.2,-2.55 Z" stroke="#000" stroke-width="0.5" transform="translate(245.2,428.0) rotate(90)"/>
<g clip-path="url(#c2)">
<path d="M-171.39,301.01m-1.95,0a1.95,1.95 0 1,0 3.90,0a1.95,1.95 0 1,0 -3.90,0M-164.42,300.82m-1.95,0a1.95,1.95 0 1,0 3.90,0a1.95,1.95 0 1,0 -3.90,0M-157.47,301.50m-1.95,0a1.95,1.95 0 1,0 3.90,0a1.95,1.95 0 1,0 -3.90,0M-150.50,300.87m-1.95,0a1.95,1.95 0 1,0 3.90,0a1.95,1.95 0 1,0 -3.90,0M-143.54,301.20m-1.95,0a1.95,1.95 0 1,0 3.90,0a1.95,1.95 0 1,0 -3.90,0M-136.57,300.90m-1.95,0a1.95,1.95 0 1,0 3.90,0a1.95,1.95 0 1,0 -3.90,0M-129.62,301.51m-1.95,0a1.95,1.95 0 1,0 3.90,0a1.95,1.95 0 1,0 -3.90,0M-122.67,301.91m-1.95,0a1.95,1.95 0 1,0 3.90,0a1.95,1.95 0 1,0 -3.90,0M-115.70,301.82m-1.95,0a1.95,1.95 0 1,0 3.90,0a1.95,1.95 0 1,0 -3.90,0M-108.74,301.77m-1.95,0a1.95,1.95 0 1,0 3.90,0a1.95,1.95 0 1,0 -3.90,0M-101.78,301.96m-1.95,0a1.95,1.95 0 1,0 3.90,0a1.95,1.95 0 1,0 -3.90,0M-94.82,302.12m-1.95,0a1.95,1.95 0 1,0 3.90,0a1.95,1.95 0 1,0 -3.90,0M-87.85,302.08m-1.95,0a1.95,1.95 0 1,0 3.90,0a1.95,1.95 0 1,0 -3.90,0M-80.90,302.50m-1.95,0a1.95,1.95 0 1,0 3.90,0a1.95,1.95 0 1,0 -3.90,0M-73.94,302.70m-1.95,0a1.95,1.95 0 1,0 3.90,0a1.95,1.95 0 1,0 -3.90,0M-66.98,302.96m-1.95,0a1.95,1.95 0 1,0 3.90,0a1.95,1.95 0 1,0 -3.90,0M-60.01,302.63m-1.95,0a1.95,1.95 0 1,0 3.90,0a1.95,1.95 0 1,0 -3.90,0M-53.06,303.19m-1.95,0a1.95,1.95 0 1,0 3.90,0a1.95,1.95 0 1,0 -3.90,0M-46.09,303.39m-1.95,0a1.95,1.95 0 1,0 3.90,0a1.95,1.95 0 1,0 -3.90,0M-39.12,303.02m-1.95,0a1.95,1.95 0 1,0 3.90,0a1.95,1.95 0 1,0 -3.90,0M-32.17,303.59m-1.95,0a1.95,1.95 0 1,0 3.90,0a1.95,1.95 0 1,0 -3.90,0M-25.21,303.99m-1.95,0a1.95,1.95 0 1,0 3.90,0a1.95,1.95 0 1,0 -3.90,0M-18.23,303.63m-1.95,0a1.95,1.95 0 1,0 3.90,0a1.95,1.95 0 1,0 -3.90,0M-11.27,303.74m-1.95,0a1.95,1.95 0 1,0 3.90,0a1.95,1.95 0 1,0 -3.90,0M-4.32,304.50m-1.95,0a1.95,1.95 0 1,0 3.90,0a1.95,1.95 0 1,0 -3.90,0M2.65,304.64m-1.95,0a1.95,1.95 0 1,0 3.90,0a1.95,1.95 0 1,0 -3.90,0M9.60,305.11m-1.95,0a1.95,1.95 0 1,0 3.90,0a1.95,1.95 0 1,0 -3.90,0M16.57,305.23m-1.95,0a1.95,1.95 0 1,0 3.90,0a1.95,1.95 0 1,0 -3.90,0M23.54,305.37m-1.95,0a1.95,1.95 0 1,0 3.90,0a1.95,1.95 0 1,0 -3.90,0M30.49,305.92m-1.95,0a1.95,1.95 0 1,0 3.90,0a1.95,1.95 0 1,0 -3.90,0M37.45,306.40m-1.95,0a1.95,1.95 0 1,0 3.90,0a1.95,1.95 0 1,0 -3.90,0M44.43,306.37m-1.95,0a1.95,1.95 0 1,0 3.90,0a1.95,1.95 0 1,0 -3.90,0M51.41,306.55m-1.95,0a1.95,1.95 0 1,0 3.90,0a1.95,1.95 0 1,0 -3.90,0M58.34,307.62m-1.95,0a1.95,1.95 0 1,0 3.90,0a1.95,1.95 0 1,0 -3.90,0M65.30,308.11m-1.95,0a1.95,1.95 0 1,0 3.90,0a1.95,1.95 0 1,0 -3.90,0M72.33,307.67m-1.95,0a1.95,1.95 0 1,0 3.90,0a1.95,1.95 0 1,0 -3.90,0M79.29,308.30m-1.95,0a1.95,1.95 0 1,0 3.90,0a1.95,1.95 0 1,0 -3.90,0M86.26,308.90m-1.95,0a1.95,1.95 0 1,0 3.90,0a1.95,1.95 0 1,0 -3.90,0M93.17,310.14m-1.95,0a1.95,1.95 0 1,0 3.90,0a1.95,1.95 0 1,0 -3.90,0M100.16,310.57m-1.95,0a1.95,1.95 0 1,0 3.90,0a1.95,1.95 0 1,0 -3.90,0M107.14,311.21m-1.95,0a1.95,1.95 0 1,0 3.90,0a1.95,1.95 0 1,0 -3.90,0M114.10,312.19m-1.95,0a1.95,1.95 0 1,0 3.90,0a1.95,1.95 0 1,0 -3.90,0M121.10,312.89m-1.95,0a1.95,1.95 0 1,0 3.90,0a1.95,1.95 0 1,0 -3.90,0M128.04,314.11m-1.95,0a1.95,1.95 0 1,0 3.90,0a1.95,1.95 0 1,0 -3.90,0M134.96,315.58m-1.95,0a1.95,1.95 0 1,0 3.90,0a1.95,1.95 0 1,0 -3.90,0M142.08,316.01m-1.95,0a1.95,1.95 0 1,0 3.90,0a1.95,1.95 0 1,0 -3.90,0M148.97,317.93m-1.95,0a1.95,1.95 0 1,0 3.90,0a1.95,1.95 0 1,0 -3.90,0M155.90,319.73m-1.95,0a1.95,1.95 0 1,0 3.90,0a1.95,1.95 0 1,0 -3.90,0M162.91,321.46m-1.95,0a1.95,1.95 0 1,0 3.90,0a1.95,1.95 0 1,0 -3.90,0M169.78,323.93m-1.95,0a1.95,1.95 0 1,0 3.90,0a1.95,1.95 0 1,0 -3.90,0M176.91,325.97m-1.95,0a1.95,1.95 0 1,0 3.90,0a1.95,1.95 0 1,0 -3.90,0M183.56,329.66m-1.95,0a1.95,1.95 0 1,0 3.90,0a1.95,1.95 0 1,0 -3.90,0M190.64,332.82m-1.95,0a1.95,1.95 0 1,0 3.90,0a1.95,1.95 0 1,0 -3.90,0M197.36,337.30m-1.95,0a1.95,1.95 0 1,0 3.90,0a1.95,1.95 0 1,0 -3.90,0M204.13,342.45m-1.95,0a1.95,1.95 0 1,0 3.90,0a1.95,1.95 0 1,0 -3.90,0M211.49,347.98m-1.95,0a1.95,1.95 0 1,0 3.90,0a1.95,1.95 0 1,0 -3.90,0M217.97,355.78m-1.95,0a1.95,1.95 0 1,0 3.90,0a1.95,1.95 0 1,0 -3.90,0M224.76,364.80m-1.95,0a1.95,1.95 0 1,0 3.90,0a1.95,1.95 0 1,0 -3.90,0M231.58,375.48m-1.95,0a1.95,1.95 0 1,0 3.90,0a1.95,1.95 0 1,0 -3.90,0M238.51,387.60m-1.95,0a1.95,1.95 0 1,0 3.90,0a1.95,1.95 0 1,0 -3.90,0M245.33,400.64m-1.95,0a1.95,1.95 0 1,0 3.90,0a1.95,1.95 0 1,0 -3.90,0M252.29,413.50m-1.95,0a1.95,1.95 0 1,0 3.90,0a1.95,1.95 0 1,0 -3.90,0M258.90,425.54m-1.95,0a1.95,1.95 0 1,0 3.90,0a1.95,1.95 0 1,0 -3.90,0M265.43,436.18m-1.95,0a1.95,1.95 0 1,0 3.90,0a1.95,1.95 0 1,0 -3.90,0M272.48,444.84m-1.95,0a1.95,1.95 0 1,0 3.90,0a1.95,1.95 0 1,0 -3.90,0M279.27,452.30m-1.95,0a1.95,1.95 0 1,0 3.90,0a1.95,1.95 0 1,0 -3.90,0M286.71,457.76m-1.95,0a1.95,1.95 0 1,0 3.90,0a1.95,1.95 0 1,0 -3.90,0M293.70,462.73m-1.95,0a1.95,1.95 0 1,0 3.90,0a1.95,1.95 0 1,0 -3.90,0M300.89,466.55m-1.95,0a1.95,1.95 0 1,0 3.90,0a1.95,1.95 0 1,0 -3.90,0M308.02,469.75m-1.95,0a1.95,1.95 0 1,0 3.90,0a1.95,1.95 0 1,0 -3.90,0M315.24,472.09m-1.95,0a1.95,1.95 0 1,0 3.90,0a1.95,1.95 0 1,0 -3.90,0M322.61,473.33m-1.95,0a1.95,1.95 0 1,0 3.90,0a1.95,1.95 0 1,0 -3.90,0M329.35,476.23m-1.95,0a1.95,1.95 0 1,0 3.90,0a1.95,1.95 0 1,0 -3.90,0M336.43,477.69m-1.95,0a1.95,1.95 0 1,0 3.90,0a1.95,1.95 0 1,0 -3.90,0M343.52,478.72m-1.95,0a1.95,1.95 0 1,0 3.90,0a1.95,1.95 0 1,0 -3.90,0M350.46,480.24m-1.95,0a1.95,1.95 0 1,0 3.90,0a1.95,1.95 0 1,0 -3.90,0M357.43,481.46m-1.95,0a1.95,1.95 0 1,0 3.90,0a1.95,1.95 0 1,0 -3.90,0M364.36,482.82m-1.95,0a1.95,1.95 0 1,0 3.90,0a1.95,1.95 0 1,0 -3.90,0M371.29,484.08m-1.95,0a1.95,1.95 0 1,0 3.90,0a1.95,1.95 0 1,0 -3.90,0M378.23,485.29m-1.95,0a1.95,1.95 0 1,0 3.90,0a1.95,1.95 0 1,0 -3.90,0M385.27,485.47m-1.95,0a1.95,1.95 0 1,0 3.90,0a1.95,1.95 0 1,0 -3.90,0M392.23,486.29m-1.95,0a1.95,1.95 0 1,0 3.90,0a1.95,1.95 0 1,0 -3.90,0M399.24,486.52m-1.95,0a1.95,1.95 0 1,0 3.90,0a1.95,1.95 0 1,0 -3.90,0M406.17,487.54m-1.95,0a1.95,1.95 0 1,0 3.90,0a1.95,1.95 0 1,0 -3.90,0M413.16,487.81m-1.95,0a1.95,1.95 0 1,0 3.90,0a1.95,1.95 0 1,0 -3.90,0M420.16,487.81m-1.95,0a1.95,1.95 0 1,0 3.90,0a1.95,1.95 0 1,0 -3.90,0M427.07,489.09m-1.95,0a1.95,1.95 0 1,0 3.90,0a1.95,1.95 0 1,0 -3.90,0" fill="#3c3cff" fill-opacity="0.85"/>
<path d="M-167.90,300.35m-1.95,0a1.95,1.95 0 1,0 3.90,0a1.95,1.95 0 1,0 -3.90,0M-160.95,301.24m-1.95,0a1.95,1.95 0 1,0 3.90,0a1.95,1.95 0 1,0 -3.90,0M-153.99,301.56m-1.95,0a1.95,1.95 0 1,0 3.90,0a1.95,1.95 0 1,0 -3.90,0M-147.02,301.19m-1.95,0a1.95,1.95 0 1,0 3.90,0a1.95,1.95 0 1,0 -3.90,0M-140.06,300.87m-1.95,0a1.95,1.95 0 1,0 3.90,0a1.95,1.95 0 1,0 -3.90,0M-133.10,301.61m-1.95,0a1.95,1.95 0 1,0 3.90,0a1.95,1.95 0 1,0 -3.90,0M-126.14,301.45m-1.95,0a1.95,1.95 0 1,0 3.90,0a1.95,1.95 0 1,0 -3.90,0M-119.17,301.31m-1.95,0a1.95,1.95 0 1,0 3.90,0a1.95,1.95 0 1,0 -3.90,0M-112.22,301.73m-1.95,0a1.95,1.95 0 1,0 3.90,0a1.95,1.95 0 1,0 -3.90,0M-105.26,301.99m-1.95,0a1.95,1.95 0 1,0 3.90,0a1.95,1.95 0 1,0 -3.90,0M-98.30,302.05m-1.95,0a1.95,1.95 0 1,0 3.90,0a1.95,1.95 0 1,0 -3.90,0M-91.35,302.69m-1.95,0a1.95,1.95 0 1,0 3.90,0a1.95,1.95 0 1,0 -3.90,0M-84.38,302.55m-1.95,0a1.95,1.95 0 1,0 3.90,0a1.95,1.95 0 1,0 -3.90,0M-77.41,302.28m-1.95,0a1.95,1.95 0 1,0 3.90,0a1.95,1.95 0 1,0 -3.90,0M-70.45,302.28m-1.95,0a1.95,1.95 0 1,0 3.90,0a1.95,1.95 0 1,0 -3.90,0M-63.49,302.45m-1.95,0a1.95,1.95 0 1,0 3.90,0a1.95,1.95 0 1,0 -3.90,0M-56.53,302.96m-1.95,0a1.95,1.95 0 1,0 3.90,0a1.95,1.95 0 1,0 -3.90,0M-49.58,303.30m-1.95,0a1.95,1.95 0 1,0 3.90,0a1.95,1.95 0 1,0 -3.90,0M-42.61,303.15m-1.95,0a1.95,1.95 0 1,0 3.90,0a1.95,1.95 0 1,0 -3.90,0M-35.65,303.56m-1.95,0a1.95,1.95 0 1,0 3.90,0a1.95,1.95 0 1,0 -3.90,0M-28.68,303.31m-1.95,0a1.95,1.95 0 1,0 3.90,0a1.95,1.95 0 1,0 -3.90,0M-21.72,303.86m-1.95,0a1.95,1.95 0 1,0 3.90,0a1.95,1.95 0 1,0 -3.90,0M-14.76,304.16m-1.95,0a1.95,1.95 0 1,0 3.90,0a1.95,1.95 0 1,0 -3.90,0M-7.79,303.99m-1.95,0a1.95,1.95 0 1,0 3.90,0a1.95,1.95 0 1,0 -3.90,0M-0.82,304.03m-1.95,0a1.95,1.95 0 1,0 3.90,0a1.95,1.95 0 1,0 -3.90,0M6.14,304.35m-1.95,0a1.95,1.95 0 1,0 3.90,0a1.95,1.95 0 1,0 -3.90,0M13.10,304.81m-1.95,0a1.95,1.95 0 1,0 3.90,0a1.95,1.95 0 1,0 -3.90,0M20.07,304.87m-1.95,0a1.95,1.95 0 1,0 3.90,0a1.95,1.95 0 1,0 -3.90,0M27.00,305.91m-1.95,0a1.95,1.95 0 1,0 3.90,0a1.95,1.95 0 1,0 -3.90,0M34.01,305.40m-1.95,0a1.95,1.95 0 1,0 3.90,0a1.95,1.95 0 1,0 -3.90,0M40.93,306.57m-1.95,0a1.95,1.95 0 1,0 3.90,0a1.95,1.95 0 1,0 -3.90,0M47.89,307.10m-1.95,0a1.95,1.95 0 1,0 3.90,0a1.95,1.95 0 1,0 -3.90,0M54.88,307.05m-1.95,0a1.95,1.95 0 1,0 3.90,0a1.95,1.95 0 1,0 -3.90,0M61.81,307.89m-1.95,0a1.95,1.95 0 1,0 3.90,0a1.95,1.95 0 1,0 -3.90,0M68.83,307.64m-1.95,0a1.95,1.95 0 1,0 3.90,0a1.95,1.95 0 1,0 -3.90,0M75.76,308.58m-1.95,0a1.95,1.95 0 1,0 3.90,0a1.95,1.95 0 1,0 -3.90,0M82.74,308.96m-1.95,0a1.95,1.95 0 1,0 3.90,0a1.95,1.95 0 1,0 -3.90,0M89.68,309.90m-1.95,0a1.95,1.95 0 1,0 3.90,0a1.95,1.95 0 1,0 -3.90,0M96.66,310.39m-1.95,0a1.95,1.95 0 1,0 3.90,0a1.95,1.95 0 1,0 -3.90,0M103.65,310.94m-1.95,0a1.95,1.95 0 1,0 3.90,0a1.95,1.95 0 1,0 -3.90,0M110.61,311.81m-1.95,0a1.95,1.95 0 1,0 3.90,0a1.95,1.95 0 1,0 -3.90,0M117.58,312.69m-1.95,0a1.95,1.95 0 1,0 3.90,0a1.95,1.95 0 1,0 -3.90,0M124.49,314.07m-1.95,0a1.95,1.95 0 1,0 3.90,0a1.95,1.95 0 1,0 -3.90,0M131.47,315.00m-1.95,0a1.95,1.95 0 1,0 3.90,0a1.95,1.95 0 1,0 -3.90,0M138.55,315.57m-1.95,0a1.95,1.95 0 1,0 3.90,0a1.95,1.95 0 1,0 -3.90,0M145.39,317.62m-1.95,0a1.95,1.95 0 1,0 3.90,0a1.95,1.95 0 1,0 -3.90,0M152.41,318.92m-1.95,0a1.95,1.95 0 1,0 3.90,0a1.95,1.95 0 1,0 -3.90,0M159.34,320.81m-1.95,0a1.95,1.95 0 1,0 3.90,0a1.95,1.95 0 1,0 -3.90,0M166.28,322.87m-1.95,0a1.95,1.95 0 1,0 3.90,0a1.95,1.95 0 1,0 -3.90,0M173.20,325.30m-1.95,0a1.95,1.95 0 1,0 3.90,0a1.95,1.95 0 1,0 -3.90,0M180.04,328.27m-1.95,0a1.95,1.95 0 1,0 3.90,0a1.95,1.95 0 1,0 -3.90,0M187.29,330.75m-1.95,0a1.95,1.95 0 1,0 3.90,0a1.95,1.95 0 1,0 -3.90,0M193.99,334.99m-1.95,0a1.95,1.95 0 1,0 3.90,0a1.95,1.95 0 1,0 -3.90,0M200.93,339.51m-1.95,0a1.95,1.95 0 1,0 3.90,0a1.95,1.95 0 1,0 -3.90,0M207.83,345.01m-1.95,0a1.95,1.95 0 1,0 3.90,0a1.95,1.95 0 1,0 -3.90,0M214.86,351.59m-1.95,0a1.95,1.95 0 1,0 3.90,0a1.95,1.95 0 1,0 -3.90,0M221.70,359.82m-1.95,0a1.95,1.95 0 1,0 3.90,0a1.95,1.95 0 1,0 -3.90,0M228.10,369.98m-1.95,0a1.95,1.95 0 1,0 3.90,0a1.95,1.95 0 1,0 -3.90,0M234.84,381.50m-1.95,0a1.95,1.95 0 1,0 3.90,0a1.95,1.95 0 1,0 -3.90,0M241.82,394.12m-1.95,0a1.95,1.95 0 1,0 3.90,0a1.95,1.95 0 1,0 -3.90,0M248.68,407.22m-1.95,0a1.95,1.95 0 1,0 3.90,0a1.95,1.95 0 1,0 -3.90,0M255.39,419.81m-1.95,0a1.95,1.95 0 1,0 3.90,0a1.95,1.95 0 1,0 -3.90,0M262.39,430.90m-1.95,0a1.95,1.95 0 1,0 3.90,0a1.95,1.95 0 1,0 -3.90,0M268.81,440.82m-1.95,0a1.95,1.95 0 1,0 3.90,0a1.95,1.95 0 1,0 -3.90,0M275.63,448.97m-1.95,0a1.95,1.95 0 1,0 3.90,0a1.95,1.95 0 1,0 -3.90,0M282.82,455.40m-1.95,0a1.95,1.95 0 1,0 3.90,0a1.95,1.95 0 1,0 -3.90,0M290.44,460.01m-1.95,0a1.95,1.95 0 1,0 3.90,0a1.95,1.95 0 1,0 -3.90,0M297.35,464.66m-1.95,0a1.95,1.95 0 1,0 3.90,0a1.95,1.95 0 1,0 -3.90,0M304.53,468.07m-1.95,0a1.95,1.95 0 1,0 3.90,0a1.95,1.95 0 1,0 -3.90,0M311.78,470.63m-1.95,0a1.95,1.95 0 1,0 3.90,0a1.95,1.95 0 1,0 -3.90,0M318.95,472.74m-1.95,0a1.95,1.95 0 1,0 3.90,0a1.95,1.95 0 1,0 -3.90,0M325.98,474.80m-1.95,0a1.95,1.95 0 1,0 3.90,0a1.95,1.95 0 1,0 -3.90,0M333.11,476.13m-1.95,0a1.95,1.95 0 1,0 3.90,0a1.95,1.95 0 1,0 -3.90,0M340.04,477.93m-1.95,0a1.95,1.95 0 1,0 3.90,0a1.95,1.95 0 1,0 -3.90,0M346.98,479.53m-1.95,0a1.95,1.95 0 1,0 3.90,0a1.95,1.95 0 1,0 -3.90,0M354.00,480.52m-1.95,0a1.95,1.95 0 1,0 3.90,0a1.95,1.95 0 1,0 -3.90,0M360.89,482.14m-1.95,0a1.95,1.95 0 1,0 3.90,0a1.95,1.95 0 1,0 -3.90,0M367.90,482.88m-1.95,0a1.95,1.95 0 1,0 3.90,0a1.95,1.95 0 1,0 -3.90,0M374.76,484.67m-1.95,0a1.95,1.95 0 1,0 3.90,0a1.95,1.95 0 1,0 -3.90,0M381.84,484.61m-1.95,0a1.95,1.95 0 1,0 3.90,0a1.95,1.95 0 1,0 -3.90,0M388.82,485.26m-1.95,0a1.95,1.95 0 1,0 3.90,0a1.95,1.95 0 1,0 -3.90,0M395.71,486.70m-1.95,0a1.95,1.95 0 1,0 3.90,0a1.95,1.95 0 1,0 -3.90,0M402.73,486.71m-1.95,0a1.95,1.95 0 1,0 3.90,0a1.95,1.95 0 1,0 -3.90,0M409.65,487.96m-1.95,0a1.95,1.95 0 1,0 3.90,0a1.95,1.95 0 1,0 -3.90,0M416.63,488.24m-1.95,0a1.95,1.95 0 1,0 3.90,0a1.95,1.95 0 1,0 -3.90,0M423.61,488.60m-1.95,0a1.95,1.95 0 1,0 3.90,0a1.95,1.95 0 1,0 -3.90,0" fill="#3c3cff" fill-opacity="0.85"/>
<path d="M62.80,308.82 L63.71,308.87 L64.63,308.93 L65.54,308.99 L66.45,309.06 L67.37,309.12 L68.28,309.18 L69.20,309.24 L70.11,309.31 L71.02,309.37 L71.94,309.43 L72.85,309.50 L73.77,309.57 L74.68,309.63 L75.59,309.70 L76.51,309.77 L77.42,309.84 L78.33,309.91 L79.25,309.98 L80.16,310.05 L81.07,310.12 L81.99,310.19 L82.90,310.27 L83.82,310.34 L84.73,310.41 L85.64,310.49 L86.56,310.57 L87.47,310.64 L88.38,310.72 L89.30,310.80 L90.21,310.88 L91.13,310.96 L92.04,311.04 L92.95,311.13 L93.87,311.21 L94.78,311.30 L95.69,311.38 L96.61,311.47 L97.52,311.56 L98.44,311.65 L99.35,311.74 L100.26,311.83 L101.18,311.92 L102.09,312.01 L103.00,312.11 L103.92,312.20 L104.83,312.30 L105.75,312.40 L106.66,312.49 L107.57,312.59 L108.49,312.70 L109.40,312.80 L110.31,312.90 L111.23,313.01 L112.14,313.12 L113.06,313.22 L113.97,313.33 L114.88,313.44 L115.80,313.56 L116.71,313.67 L117.62,313.79 L118.54,313.90 L119.45,314.02 L120.37,314.14 L121.28,314.26 L122.19,314.39 L123.11,314.51 L124.02,314.64 L124.94,314.77 L125.85,314.90 L126.76,315.03 L127.68,315.17 L128.59,315.30 L129.50,315.44 L130.42,315.58 L131.33,315.72 L132.25,315.87 L133.16,316.01 L134.07,316.16 L134.99,316.31 L135.90,316.47 L136.81,316.62 L137.73,316.78 L138.64,316.94 L139.56,317.11 L140.47,317.27 L141.38,317.44 L142.30,317.61 L143.21,317.78 L144.12,317.96 L145.04,318.14 L145.95,318.32 L146.87,318.51 L147.78,318.70 L148.69,318.89 L149.61,319.08 L150.52,319.28 L151.43,319.48 L152.35,319.69 L153.26,319.90 L154.18,320.11 L155.09,320.33 L156.00,320.55 L156.92,320.77 L157.83,321.00 L158.74,321.23 L159.66,321.47 L160.57,321.71 L161.49,321.95 L162.40,322.21 L163.31,322.46 L164.23,322.72 L165.14,322.98 L166.05,323.25 L166.97,323.53 L167.88,323.81 L168.80,324.10 L169.71,324.39 L170.62,324.69 L171.54,324.99 L172.45,325.30 L173.36,325.62 L174.28,325.94 L175.19,326.27 L176.11,326.61 L177.02,326.95 L177.93,327.30 L178.85,327.66 L179.76,328.03 L180.67,328.41 L181.59,328.79 L182.50,329.18 L183.41,329.59 L184.33,330.00 L185.24,330.42 L186.16,330.85 L187.07,331.29 L187.98,331.74 L188.90,332.20 L189.81,332.67 L190.72,333.15 L191.64,333.65 L192.55,334.16 L193.47,334.67 L194.38,335.21 L195.29,335.75 L196.21,336.31 L197.12,336.89 L198.04,337.48 L198.95,338.08 L199.86,338.70 L200.78,339.33 L201.69,339.99 L202.60,340.65 L203.52,341.34 L204.43,342.04 L205.34,342.77 L206.26,343.51 L207.17,344.27 L208.09,345.06 L209.00,345.86 L209.91,346.69 L210.83,347.53 L211.74,348.40 L212.65,349.30 L213.57,350.22 L214.48,351.16 L215.40,352.13 L216.31,353.12 L217.22,354.14 L218.14,355.19 L219.05,356.26 L219.96,357.36 L220.88,358.49 L221.79,359.65 L222.71,360.84 L223.62,362.06 L224.53,363.31 L225.45,364.58 L226.36,365.89 L227.27,367.23 L228.19,368.59 L229.10,369.99 L230.02,371.41 L230.93,372.86 L231.84,374.34 L232.76,375.85 L233.67,377.38 L234.58,378.94 L235.50,380.52 L236.41,382.12 L237.33,383.74 L238.24,385.39 L239.15,387.04 L240.07,388.72 L240.98,390.41 L241.89,392.10 L242.81,393.81 L243.72,395.52 L244.64,397.24 L245.55,398.96 L246.46,400.68 L247.38,402.39 L248.29,404.10 L249.20,405.80 L250.12,407.49 L251.03,409.17 L251.95,410.83 L252.86,412.47 L253.77,414.10 L254.69,415.71 L255.60,417.29 L256.51,418.86 L257.43,420.40 L258.34,421.91 L259.26,423.39 L260.17,424.85 L261.08,426.28 L262.00,427.68 L262.91,429.06 L263.82,430.40 L264.74,431.71 L265.65,433.00 L266.57,434.25 L267.48,435.48 L268.39,436.67 L269.31,437.84 L270.22,438.97 L271.13,440.08 L272.05,441.16 L272.96,442.22 L273.88,443.24 L274.79,444.24 L275.70,445.22 L276.62,446.17 L277.53,447.09 L278.44,447.99 L279.36,448.87 L280.27,449.72 L281.19,450.55 L282.10,451.36 L283.01,452.15 L283.93,452.91 L284.84,453.66 L285.75,454.39 L286.67,455.10 L287.58,455.79 L288.50,456.46 L289.41,457.12 L290.32,457.75 L291.24,458.38 L292.15,458.98 L293.06,459.58 L293.98,460.15 L294.89,460.72 L295.81,461.27 L296.72,461.80 L297.63,462.32 L298.55,462.83 L299.46,463.33 L300.38,463.82 L301.29,464.29 L302.20,464.76 L303.12,465.21 L304.03,465.65 L304.94,466.08 L305.86,466.51 L306.77,466.92 L307.69,467.32 L308.60,467.72 L309.51,468.10 L310.43,468.48 L311.34,468.85 L312.25,469.21 L313.17,469.57 L314.08,469.91 L315.00,470.25 L315.91,470.58 L316.82,470.91 L317.74,471.23 L318.65,471.54 L319.56,471.84 L320.48,472.14 L321.39,472.44 L322.31,472.72 L323.22,473.01 L324.13,473.28 L325.05,473.55 L325.96,473.82 L326.87,474.08 L327.79,474.34 L328.70,474.59 L329.62,474.83 L330.53,475.08 L331.44,475.31 L332.36,475.55 L333.27,475.78 L334.18,476.00 L335.10,476.22 L336.01,476.44 L336.93,476.65 L337.84,476.86 L338.75,477.07 L339.67,477.27 L340.58,477.47 L341.49,477.67 L342.41,477.86 L343.32,478.05 L344.24,478.23 L345.15,478.42 L346.06,478.60 L346.98,478.77 L347.89,478.95 L348.80,479.12 L349.72,479.29 L350.63,479.46 L351.55,479.62 L352.46,479.78 L353.37,479.94 L354.29,480.10 L355.20,480.25 L356.11,480.40 L357.03,480.55 L357.94,480.70 L358.86,480.84 L359.77,480.99 L360.68,481.13 L361.60,481.27 L362.51,481.40 L363.42,481.54 L364.34,481.67 L365.25,481.80 L366.17,481.93 L367.08,482.06 L367.99,482.18 L368.91,482.31 L369.82,482.43 L370.73,482.55 L371.65,482.67 L372.56,482.79 L373.48,482.90 L374.39,483.02 L375.30,483.13 L376.22,483.24 L377.13,483.35 L378.04,483.46 L378.96,483.57 L379.87,483.67 L380.79,483.78 L381.70,483.88 L382.61,483.98 L383.53,484.08 L384.44,484.18 L385.35,484.28 L386.27,484.38 L387.18,484.47 L388.10,484.57 L389.01,484.66 L389.92,484.75 L390.84,484.84 L391.75,484.93 L392.66,485.02 L393.58,485.11 L394.49,485.20 L395.41,485.28 L396.32,485.37 L397.23,485.45 L398.15,485.54 L399.06,485.62 L399.97,485.70 L400.89,485.78 L401.80,485.86 L402.72,485.94 L403.63,486.01 L404.54,486.09 L405.46,486.17 L406.37,486.24 L407.28,486.32 L408.20,486.39 L409.11,486.46 L410.03,486.54 L410.94,486.61 L411.85,486.68 L412.77,486.75 L413.68,486.82 L414.59,486.88 L415.51,486.95 L416.42,487.02 L417.34,487.08 L418.25,487.15 L419.16,487.22 L420.08,487.28 L420.99,487.34 L421.90,487.41 L422.82,487.47 L423.73,487.53 L424.65,487.59 L425.56,487.65 L426.47,487.71 L427.39,487.77 L428.30,487.83" fill="none" stroke="#0000ff" stroke-width="2.7"/>
<path d="M62.80,310.54 L63.71,310.61 L64.62,310.69 L65.54,310.76 L66.45,310.84 L67.36,310.92 L68.27,311.00 L69.18,311.08 L70.09,311.16 L71.01,311.24 L71.92,311.32 L72.83,311.40 L73.74,311.48 L74.65,311.57 L75.56,311.65 L76.48,311.74 L77.39,311.83 L78.30,311.92 L79.21,312.01 L80.12,312.10 L81.03,312.19 L81.95,312.28 L82.86,312.38 L83.77,312.47 L84.68,312.57 L85.59,312.66 L86.51,312.76 L87.42,312.86 L88.33,312.96 L89.24,313.06 L90.15,313.17 L91.06,313.27 L91.98,313.38 L92.89,313.49 L93.80,313.59 L94.71,313.70 L95.62,313.82 L96.53,313.93 L97.45,314.04 L98.36,314.16 L99.27,314.28 L100.18,314.39 L101.09,314.52 L102.01,314.64 L102.92,314.76 L103.83,314.89 L104.74,315.01 L105.65,315.14 L106.56,315.27 L107.48,315.41 L108.39,315.54 L109.30,315.68 L110.21,315.81 L111.12,315.96 L112.03,316.10 L112.95,316.24 L113.86,316.39 L114.77,316.54 L115.68,316.69 L116.59,316.84 L117.50,317.00 L118.42,317.15 L119.33,317.31 L120.24,317.48 L121.15,317.64 L122.06,317.81 L122.98,317.98 L123.89,318.15 L124.80,318.33 L125.71,318.50 L126.62,318.69 L127.53,318.87 L128.45,319.06 L129.36,319.25 L130.27,319.44 L131.18,319.64 L132.09,319.84 L133.00,320.04 L133.92,320.25 L134.83,320.46 L135.74,320.67 L136.65,320.89 L137.56,321.11 L138.48,321.33 L139.39,321.56 L140.30,321.80 L141.21,322.03 L142.12,322.28 L143.03,322.52 L143.95,322.77 L144.86,323.03 L145.77,323.29 L146.68,323.55 L147.59,323.82 L148.50,324.10 L149.42,324.38 L150.33,324.67 L151.24,324.96 L152.15,325.26 L153.06,325.56 L153.97,325.87 L154.89,326.19 L155.80,326.51 L156.71,326.84 L157.62,327.17 L158.53,327.51 L159.45,327.86 L160.36,328.22 L161.27,328.59 L162.18,328.96 L163.09,329.34 L164.00,329.73 L164.92,330.13 L165.83,330.53 L166.74,330.95 L167.65,331.37 L168.56,331.81 L169.47,332.25 L170.39,332.71 L171.30,333.17 L172.21,333.65 L173.12,334.14 L174.03,334.64 L174.95,335.15 L175.86,335.67 L176.77,336.21 L177.68,336.76 L178.59,337.32 L179.50,337.89 L180.42,338.48 L181.33,339.09 L182.24,339.71 L183.15,340.34 L184.06,341.00 L184.97,341.66 L185.89,342.35 L186.80,343.05 L187.71,343.77 L188.62,344.51 L189.53,345.27 L190.44,346.05 L191.36,346.85 L192.27,347.67 L193.18,348.51 L194.09,349.37 L195.00,350.25 L195.92,351.16 L196.83,352.09 L197.74,353.04 L198.65,354.02 L199.56,355.02 L200.47,356.05 L201.39,357.11 L202.30,358.19 L203.21,359.29 L204.12,360.42 L205.03,361.58 L205.94,362.77 L206.86,363.99 L207.77,365.23 L208.68,366.50 L209.59,367.80 L210.50,369.12 L211.42,370.47 L212.33,371.85 L213.24,373.25 L214.15,374.68 L215.06,376.13 L215.97,377.61 L216.89,379.11 L217.80,380.63 L218.71,382.17 L219.62,383.73 L220.53,385.31 L221.44,386.90 L222.36,388.51 L223.27,390.13 L224.18,391.76 L225.09,393.40 L226.00,395.05 L226.92,396.70 L227.83,398.35 L228.74,400.00 L229.65,401.65 L230.56,403.29 L231.47,404.93 L232.39,406.56 L233.30,408.18 L234.21,409.79 L235.12,411.38 L236.03,412.96 L236.94,414.52 L237.86,416.06 L238.77,417.58 L239.68,419.08 L240.59,420.55 L241.50,422.00 L242.41,423.43 L243.33,424.83 L244.24,426.21 L245.15,427.56 L246.06,428.88 L246.97,430.18 L247.89,431.44 L248.80,432.68 L249.71,433.90 L250.62,435.08 L251.53,436.24 L252.44,437.37 L253.36,438.48 L254.27,439.56 L255.18,440.61 L256.09,441.64 L257.00,442.64 L257.91,443.61 L258.83,444.57 L259.74,445.50 L260.65,446.40 L261.56,447.28 L262.47,448.14 L263.38,448.98 L264.30,449.80 L265.21,450.60 L266.12,451.37 L267.03,452.13 L267.94,452.87 L268.86,453.59 L269.77,454.29 L270.68,454.97 L271.59,455.64 L272.50,456.29 L273.41,456.93 L274.33,457.55 L275.24,458.15 L276.15,458.74 L277.06,459.32 L277.97,459.88 L278.88,460.42 L279.80,460.96 L280.71,461.48 L281.62,461.99 L282.53,462.49 L283.44,462.98 L284.36,463.45 L285.27,463.92 L286.18,464.37 L287.09,464.82 L288.00,465.25 L288.91,465.67 L289.83,466.09 L290.74,466.50 L291.65,466.89 L292.56,467.28 L293.47,467.66 L294.38,468.03 L295.30,468.40 L296.21,468.76 L297.12,469.11 L298.03,469.45 L298.94,469.78 L299.86,470.11 L300.77,470.43 L301.68,470.75 L302.59,471.06 L303.50,471.36 L304.41,471.66 L305.33,471.95 L306.24,472.24 L307.15,472.52 L308.06,472.79 L308.97,473.06 L309.88,473.33 L310.80,473.59 L311.71,473.84 L312.62,474.09 L313.53,474.34 L314.44,474.58 L315.35,474.82 L316.27,475.05 L317.18,475.28 L318.09,475.50 L319.00,475.72 L319.91,475.94 L320.83,476.16 L321.74,476.37 L322.65,476.57 L323.56,476.78 L324.47,476.97 L325.38,477.17 L326.30,477.36 L327.21,477.55 L328.12,477.74 L329.03,477.92 L329.94,478.11 L330.85,478.28 L331.77,478.46 L332.68,478.63 L333.59,478.80 L334.50,478.97 L335.41,479.13 L336.32,479.30 L337.24,479.46 L338.15,479.61 L339.06,479.77 L339.97,479.92 L340.88,480.07 L341.80,480.22 L342.71,480.37 L343.62,480.51 L344.53,480.65 L345.44,480.79 L346.35,480.93 L347.27,481.07 L348.18,481.20 L349.09,481.33 L350.00,481.46 L350.91,481.59 L351.82,481.72 L352.74,481.85 L353.65,481.97 L354.56,482.09 L355.47,482.21 L356.38,482.33 L357.30,482.45 L358.21,482.56 L359.12,482.68 L360.03,482.79 L360.94,482.90 L361.85,483.01 L362.77,483.12 L363.68,483.23 L364.59,483.33 L365.50,483.44 L366.41,483.54 L367.32,483.64 L368.24,483.74 L369.15,483.84 L370.06,483.94 L370.97,484.04 L371.88,484.14 L372.80,484.23 L373.71,484.32 L374.62,484.42 L375.53,484.51 L376.44,484.60 L377.35,484.69 L378.27,484.78 L379.18,484.86 L380.09,484.95 L381.00,485.04 L381.91,485.12 L382.82,485.20 L383.74,485.29 L384.65,485.37 L385.56,485.45 L386.47,485.53 L387.38,485.61 L388.29,485.69 L389.21,485.76 L390.12,485.84 L391.03,485.92 L391.94,485.99 L392.85,486.06 L393.77,486.14 L394.68,486.21 L395.59,486.28 L396.50,486.35 L397.41,486.42 L398.32,486.49 L399.24,486.56 L400.15,486.63 L401.06,486.70 L401.97,486.76 L402.88,486.83 L403.79,486.90 L404.71,486.96 L405.62,487.03 L406.53,487.09 L407.44,487.15 L408.35,487.21 L409.26,487.28 L410.18,487.34 L411.09,487.40 L412.00,487.46 L412.91,487.52 L413.82,487.58 L414.74,487.63 L415.65,487.69 L416.56,487.75 L417.47,487.81 L418.38,487.86 L419.29,487.92 L420.21,487.97 L421.12,488.03 L422.03,488.08 L422.94,488.14 L423.85,488.19 L424.76,488.24 L425.68,488.29 L426.59,488.35 L427.50,488.40" fill="none" stroke="#ff0000" stroke-width="2.0" stroke-dasharray="4.8 1.4"/>
</g>
<rect x="62.8" y="285.3" width="364.7" height="225.0" stroke="#000" stroke-width="1.25" fill="none"/>
<path d="M62.8,296.78 h3.8 M62.8,347.54 h3.8 M62.8,398.30 h3.8 M62.8,449.06 h3.8 M62.8,499.82 h3.8 M71.20,510.3 v-3.5 M88.60,510.3 v-2.2 M106.00,510.3 v-2.2 M123.40,510.3 v-2.2 M140.80,510.3 v-2.2 M158.20,510.3 v-3.5 M175.60,510.3 v-2.2 M193.00,510.3 v-2.2 M210.40,510.3 v-2.2 M227.80,510.3 v-2.2 M245.20,510.3 v-3.5 M262.60,510.3 v-2.2 M280.00,510.3 v-2.2 M297.40,510.3 v-2.2 M314.80,510.3 v-2.2 M332.20,510.3 v-3.5 M349.60,510.3 v-2.2 M367.00,510.3 v-2.2 M384.40,510.3 v-2.2 M401.80,510.3 v-2.2 M419.20,510.3 v-3.5" stroke="#000" stroke-width="1.1" fill="none"/>
<path d="M427.5,499.82 h-1.7 M427.5,488.54 h-1.7 M427.5,477.26 h-1.7 M427.5,465.98 h-1.7 M427.5,454.70 h-3.0 M427.5,443.42 h-1.7 M427.5,432.14 h-1.7 M427.5,420.86 h-1.7 M427.5,409.58 h-1.7 M427.5,398.30 h-3.0 M427.5,387.02 h-1.7 M427.5,375.74 h-1.7 M427.5,364.46 h-1.7 M427.5,353.18 h-1.7 M427.5,341.90 h-3.0 M427.5,330.62 h-1.7 M427.5,319.34 h-1.7 M427.5,308.06 h-1.7 M427.5,296.78 h-1.7" stroke="#000" stroke-width="1.3" fill="none"/>
<text class="b" font-size="14.40" transform="translate(0.70,10.50) scale(1.0600,1)">(a)</text>
<text class="b" font-size="14.40" transform="translate(0.60,293.20) scale(1.0350,1)">(b)</text>
<text font-size="16.20" transform="translate(146.30,20.70) scale(0.9860,1)">probe−cavity detuning,</text>
<text font-size="16.20" transform="translate(312.48,20.70) scale(0.9860,1)">Δ</text>
<text class="i" font-size="10.60" transform="translate(323.95,23.30) scale(0.9860,1)">p</text>
<text font-size="16.20" transform="translate(330.26,20.70) scale(0.9860,1)">/</text>
<text class="i" font-size="16.20" transform="translate(335.90,20.70) scale(0.9500,1)">κ</text>
<text font-size="15.00" transform="translate(98.27,44.50) scale(0.9570,1)">−</text>
<text font-size="15.00" transform="translate(107.65,44.50) scale(0.9570,1)">2</text>
<text font-size="15.00" transform="translate(167.27,44.50) scale(0.9570,1)">−</text>
<text font-size="15.00" transform="translate(176.65,44.50) scale(0.9570,1)">1</text>
<text font-size="15.00" transform="translate(241.21,44.50) scale(0.9570,1)">0</text>
<text font-size="15.00" transform="translate(310.21,44.50) scale(0.9570,1)">1</text>
<text font-size="15.00" transform="translate(379.21,44.50) scale(0.9570,1)">2</text>
<text font-size="15.00" transform="translate(40.64,274.70) scale(0.9570,1)">0.0</text>
<text font-size="15.00" transform="translate(40.64,231.70) scale(0.9570,1)">0.2</text>
<text font-size="15.00" transform="translate(40.64,188.70) scale(0.9570,1)">0.4</text>
<text font-size="15.00" transform="translate(40.64,145.70) scale(0.9570,1)">0.6</text>
<text font-size="15.00" transform="translate(40.64,102.70) scale(0.9570,1)">0.8</text>
<text font-size="15.00" transform="translate(40.64,59.70) scale(0.9570,1)">1.0</text>
<text font-size="15.00" transform="translate(44.33,301.68) scale(0.9570,1)">90</text>
<text font-size="15.00" transform="translate(44.33,352.44) scale(0.9570,1)">45</text>
<text font-size="15.00" transform="translate(52.32,403.20) scale(0.9570,1)">0</text>
<text font-size="15.00" transform="translate(34.95,453.96) scale(0.9570,1)">−</text>
<text font-size="15.00" transform="translate(44.33,453.96) scale(0.9570,1)">45</text>
<text font-size="15.00" transform="translate(34.95,504.72) scale(0.9570,1)">−</text>
<text font-size="15.00" transform="translate(44.33,504.72) scale(0.9570,1)">90</text>
<text font-size="15.00" transform="translate(58.27,526.20) scale(0.9570,1)">−</text>
<text font-size="15.00" transform="translate(67.66,526.20) scale(0.9570,1)">10</text>
<text font-size="15.00" transform="translate(149.27,526.20) scale(0.9570,1)">−</text>
<text font-size="15.00" transform="translate(158.65,526.20) scale(0.9570,1)">5</text>
<text font-size="15.00" transform="translate(241.21,526.20) scale(0.9570,1)">0</text>
<text font-size="15.00" transform="translate(328.21,526.20) scale(0.9570,1)">5</text>
<text font-size="15.00" transform="translate(411.22,526.20) scale(0.9570,1)">10</text>
<text font-size="16.20" transform="translate(117.20,550.10) scale(0.9860,1)">probe−cavity detuning,</text>
<text font-size="16.20" transform="translate(283.38,550.10) scale(0.9860,1)">Δ</text>
<text class="i" font-size="10.60" transform="translate(294.85,552.70) scale(0.9860,1)">p</text>
<text font-size="16.20" transform="translate(301.16,550.10) scale(1.1500,1)">/</text>
<text font-size="16.20" transform="translate(306.04,550.10) scale(0.9860,1)">2</text>
<text class="i" font-size="16.20" transform="translate(315.92,550.10) scale(1.0600,1)">π</text>
<text font-size="16.20" transform="translate(332.12,550.10) scale(0.9750,1)">[MHz]</text>
<g transform="translate(32.00,233.00) rotate(-90)">
<text font-size="16.20" transform="translate(0.00,0.00) scale(0.9860,1)">norm. amplitude,</text>
<text class="i" font-size="16.20" transform="translate(123.97,0.00) scale(0.9860,1)">A</text>
<text class="i" font-size="10.60" transform="translate(134.82,2.60) scale(0.9860,1)">n</text>
</g>
<g transform="translate(28.90,452.50) rotate(-90)">
<text font-size="16.20" transform="translate(0.00,0.00) scale(0.9860,1)">phase,</text>
<text class="i" font-size="16.20" transform="translate(53.36,0.00) scale(1.2200,1)">ϕ</text>
<text font-size="16.20" transform="translate(69.55,0.00) scale(0.9860,1)">[deg.]</text>
</g>
<text class="i" font-size="16.20" transform="translate(297.00,124.30) scale(0.8800,1)">κ</text>
<text font-size="16.20" transform="translate(303.58,124.30) scale(1.4000,1)">/</text>
<text font-size="16.20" transform="translate(308.63,124.30) scale(1.0900,1)">2</text>
<text class="i" font-size="16.20" transform="translate(319.75,124.30) scale(1.0500,1)">π</text>
<text class="i" font-size="15.30" transform="translate(264.20,72.40) scale(1.0500,1)">δ</text>
<text font-size="14.60" transform="translate(273.13,72.40) scale(1.1000,1)">A</text>
<text class="i" font-size="10.60" transform="translate(284.24,75.10) scale(0.9950,1)">n</text>
<text class="i" font-size="16.20" transform="translate(263.40,234.20) scale(0.9950,1)">χ</text>
<text font-size="16.20" transform="translate(272.80,232.40) scale(1.0000,1)">/</text>
<text font-size="16.20" transform="translate(276.90,232.40) scale(0.9700,1)">2</text>
<text class="i" font-size="16.20" transform="translate(286.74,232.40) scale(1.0300,1)">π</text>
<text class="i" font-size="16.20" transform="translate(174.70,405.90) scale(0.9950,1)">χ</text>
<text font-size="16.20" transform="translate(184.10,404.10) scale(1.0000,1)">/</text>
<text font-size="16.20" transform="translate(188.20,404.10) scale(0.9700,1)">2</text>
<text class="i" font-size="16.20" transform="translate(198.04,404.10) scale(1.0300,1)">π</text>
<text class="i" font-size="16.20" transform="translate(261.70,419.00) scale(0.9950,1)">δ</text>
<text class="i" font-size="16.20" transform="translate(270.66,419.00) scale(1.2200,1)">ϕ</text>
</svg></body></html>
